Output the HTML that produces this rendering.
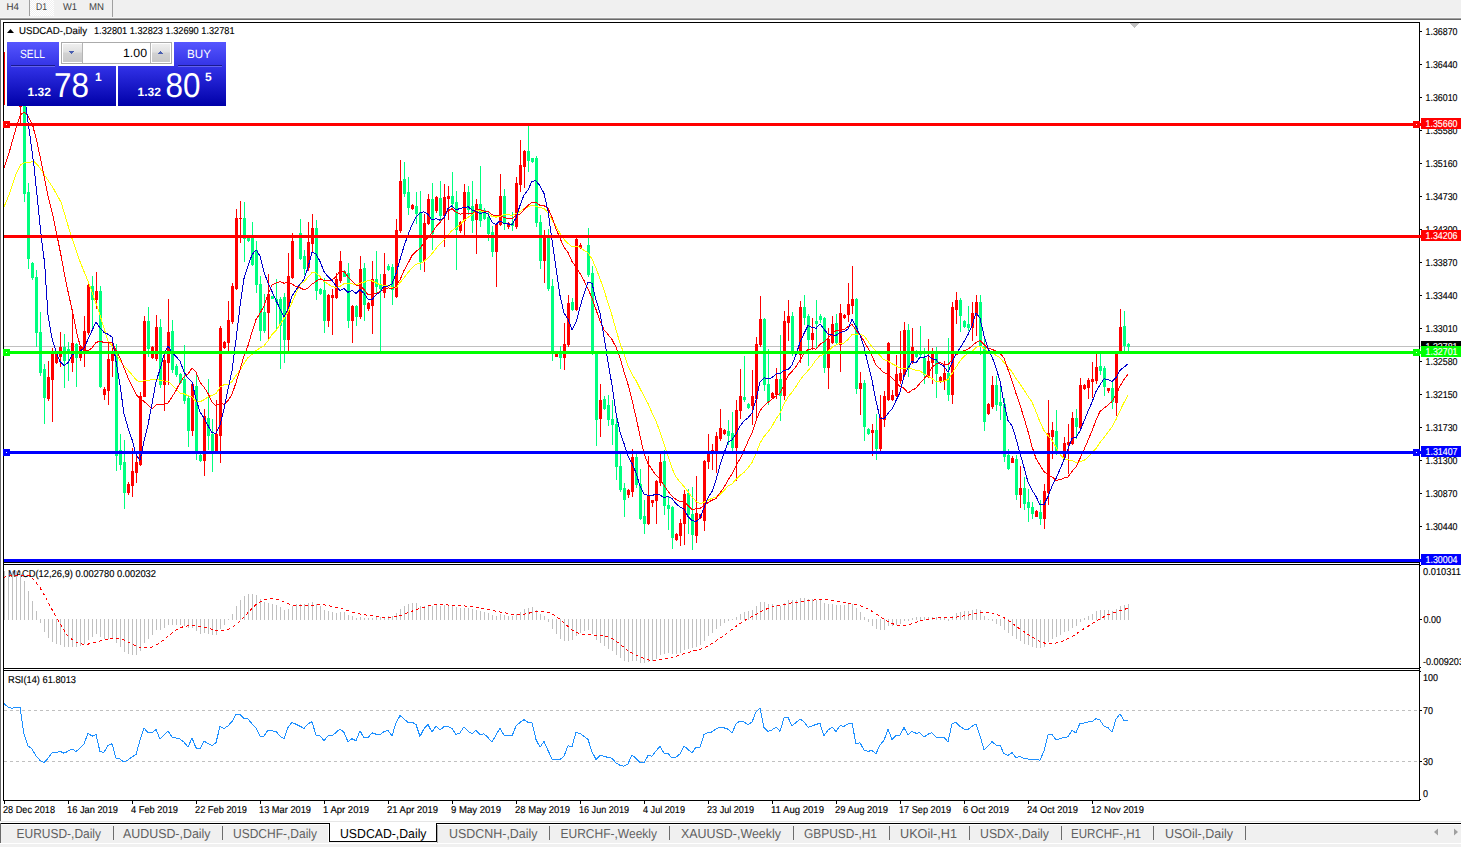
<!DOCTYPE html>
<html><head><meta charset="utf-8"><title>USDCAD-,Daily</title>
<style>html,body{margin:0;padding:0;background:#fff;overflow:hidden}svg{display:block}text{font-family:"Liberation Sans",sans-serif;white-space:pre}</style>
</head><body>
<svg width="1461" height="847" viewBox="0 0 1461 847" shape-rendering="crispEdges" text-rendering="geometricPrecision">
<rect x="0" y="0" width="1461" height="847" fill="#ffffff" />
<rect x="0" y="0" width="1461" height="18" fill="#f0f0f0" />
<defs><pattern id="chk" width="2" height="2" patternUnits="userSpaceOnUse"><rect width="2" height="2" fill="#f0f0f0"/><rect width="1" height="1" fill="#fff"/><rect x="1" y="1" width="1" height="1" fill="#fff"/></pattern></defs>
<rect x="30" y="0" width="24" height="16" fill="url(#chk)" />
<rect x="0" y="17" width="1461" height="1" fill="#f6f6f6" />
<rect x="29" y="0" width="1" height="16" fill="#a0a0a0" />
<rect x="112" y="0" width="1" height="17" fill="#a0a0a0" />
<text x="6.5" y="10" font-size="10" fill="#404040" text-anchor="start" font-weight="normal" textLength="12.5" lengthAdjust="spacingAndGlyphs" >H4</text>
<text x="36" y="10" font-size="10" fill="#404040" text-anchor="start" font-weight="normal" textLength="11" lengthAdjust="spacingAndGlyphs" >D1</text>
<text x="63" y="10" font-size="10" fill="#404040" text-anchor="start" font-weight="normal" textLength="14" lengthAdjust="spacingAndGlyphs" >W1</text>
<text x="89" y="10" font-size="10" fill="#404040" text-anchor="start" font-weight="normal" textLength="15" lengthAdjust="spacingAndGlyphs" >MN</text>
<rect x="0" y="18" width="1461" height="1" fill="#a0a0a0" />
<rect x="0" y="19" width="1461" height="1" fill="#696969" />
<rect x="0" y="19" width="1" height="802" fill="#696969" />
<rect x="0" y="821" width="1461" height="1" fill="#e6e6e6" />
<rect x="0" y="822" width="1461" height="1" fill="#ffffff" />
<rect x="0" y="823" width="1461" height="1" fill="#000" />
<rect x="0" y="824" width="1461" height="1" fill="#ffffff" />
<rect x="0" y="825" width="1461" height="18" fill="#f0f0f0" />
<rect x="0" y="843" width="1461" height="1" fill="#ffffff" />
<rect x="0" y="844" width="1461" height="3" fill="#f0f0f0" />
<rect x="0" y="823" width="1" height="20" fill="#696969" />
<text x="8" y="577" font-size="10" fill="#000" text-anchor="start" font-weight="normal" textLength="148" lengthAdjust="spacingAndGlyphs" stroke="#000" stroke-width="0.15" >MACD(12,26,9) 0.002780 0.002032</text>
<text x="8" y="683" font-size="10" fill="#000" text-anchor="start" font-weight="normal" textLength="68" lengthAdjust="spacingAndGlyphs" stroke="#000" stroke-width="0.15" >RSI(14) 61.8013</text>
<rect x="4" y="346" width="1417" height="1" fill="#c0c0c0" />
<rect x="20" y="106" width="1" height="17" fill="#ff0000"/>
<rect x="19" y="106" width="3" height="1" fill="#ff0000"/>
<rect x="24" y="106" width="1" height="96" fill="#00ff7f"/>
<rect x="23" y="106" width="3" height="88" fill="#00ff7f"/>
<rect x="28" y="183" width="1" height="86" fill="#00ff7f"/>
<rect x="27" y="192" width="3" height="67" fill="#00ff7f"/>
<rect x="32" y="262" width="1" height="18" fill="#00ff7f"/>
<rect x="31" y="263" width="3" height="15" fill="#00ff7f"/>
<rect x="36" y="270" width="1" height="77" fill="#00ff7f"/>
<rect x="35" y="277" width="3" height="56" fill="#00ff7f"/>
<rect x="40" y="312" width="1" height="64" fill="#00ff7f"/>
<rect x="39" y="332" width="3" height="41" fill="#00ff7f"/>
<rect x="44" y="364" width="1" height="60" fill="#00ff7f"/>
<rect x="43" y="369" width="3" height="29" fill="#00ff7f"/>
<rect x="48" y="361" width="1" height="40" fill="#ff0000"/>
<rect x="47" y="377" width="3" height="22" fill="#ff0000"/>
<rect x="52" y="348" width="1" height="74" fill="#ff0000"/>
<rect x="51" y="354" width="3" height="26" fill="#ff0000"/>
<rect x="56" y="351" width="1" height="13" fill="#ff0000"/>
<rect x="55" y="352" width="3" height="11" fill="#ff0000"/>
<rect x="60" y="332" width="1" height="35" fill="#ff0000"/>
<rect x="59" y="347" width="3" height="10" fill="#ff0000"/>
<rect x="64" y="334" width="1" height="54" fill="#00ff7f"/>
<rect x="63" y="347" width="3" height="14" fill="#00ff7f"/>
<rect x="68" y="342" width="1" height="39" fill="#00ff7f"/>
<rect x="67" y="349" width="3" height="4" fill="#00ff7f"/>
<rect x="72" y="313" width="1" height="59" fill="#ff0000"/>
<rect x="71" y="343" width="3" height="20" fill="#ff0000"/>
<rect x="76" y="343" width="1" height="44" fill="#00ff7f"/>
<rect x="75" y="344" width="3" height="14" fill="#00ff7f"/>
<rect x="80" y="345" width="1" height="16" fill="#ff0000"/>
<rect x="79" y="346" width="3" height="12" fill="#ff0000"/>
<rect x="84" y="316" width="1" height="51" fill="#ff0000"/>
<rect x="83" y="331" width="3" height="21" fill="#ff0000"/>
<rect x="88" y="284" width="1" height="51" fill="#ff0000"/>
<rect x="87" y="285" width="3" height="48" fill="#ff0000"/>
<rect x="92" y="276" width="1" height="52" fill="#00ff7f"/>
<rect x="91" y="286" width="3" height="14" fill="#00ff7f"/>
<rect x="96" y="272" width="1" height="37" fill="#ff0000"/>
<rect x="95" y="291" width="3" height="9" fill="#ff0000"/>
<rect x="100" y="286" width="1" height="102" fill="#00ff7f"/>
<rect x="99" y="291" width="3" height="96" fill="#00ff7f"/>
<rect x="104" y="387" width="1" height="13" fill="#ff0000"/>
<rect x="103" y="389" width="3" height="6" fill="#ff0000"/>
<rect x="108" y="342" width="1" height="63" fill="#ff0000"/>
<rect x="107" y="359" width="3" height="32" fill="#ff0000"/>
<rect x="112" y="341" width="1" height="36" fill="#ff0000"/>
<rect x="111" y="352" width="3" height="9" fill="#ff0000"/>
<rect x="116" y="344" width="1" height="127" fill="#00ff7f"/>
<rect x="115" y="352" width="3" height="104" fill="#00ff7f"/>
<rect x="120" y="434" width="1" height="36" fill="#00ff7f"/>
<rect x="119" y="450" width="3" height="15" fill="#00ff7f"/>
<rect x="124" y="440" width="1" height="69" fill="#00ff7f"/>
<rect x="123" y="462" width="3" height="31" fill="#00ff7f"/>
<rect x="128" y="482" width="1" height="13" fill="#ff0000"/>
<rect x="127" y="484" width="3" height="9" fill="#ff0000"/>
<rect x="132" y="448" width="1" height="49" fill="#ff0000"/>
<rect x="131" y="471" width="3" height="15" fill="#ff0000"/>
<rect x="136" y="454" width="1" height="29" fill="#ff0000"/>
<rect x="135" y="462" width="3" height="11" fill="#ff0000"/>
<rect x="140" y="392" width="1" height="74" fill="#ff0000"/>
<rect x="139" y="396" width="3" height="69" fill="#ff0000"/>
<rect x="144" y="316" width="1" height="81" fill="#ff0000"/>
<rect x="143" y="321" width="3" height="76" fill="#ff0000"/>
<rect x="148" y="307" width="1" height="50" fill="#00ff7f"/>
<rect x="147" y="321" width="3" height="28" fill="#00ff7f"/>
<rect x="152" y="346" width="1" height="13" fill="#ff0000"/>
<rect x="151" y="347" width="3" height="11" fill="#ff0000"/>
<rect x="156" y="315" width="1" height="46" fill="#ff0000"/>
<rect x="155" y="327" width="3" height="32" fill="#ff0000"/>
<rect x="160" y="319" width="1" height="69" fill="#00ff7f"/>
<rect x="159" y="327" width="3" height="58" fill="#00ff7f"/>
<rect x="164" y="352" width="1" height="59" fill="#ff0000"/>
<rect x="163" y="360" width="3" height="25" fill="#ff0000"/>
<rect x="168" y="299" width="1" height="86" fill="#ff0000"/>
<rect x="167" y="332" width="3" height="31" fill="#ff0000"/>
<rect x="172" y="320" width="1" height="53" fill="#00ff7f"/>
<rect x="171" y="331" width="3" height="39" fill="#00ff7f"/>
<rect x="176" y="364" width="1" height="13" fill="#00ff7f"/>
<rect x="175" y="366" width="3" height="9" fill="#00ff7f"/>
<rect x="180" y="373" width="1" height="11" fill="#00ff7f"/>
<rect x="179" y="374" width="3" height="9" fill="#00ff7f"/>
<rect x="184" y="345" width="1" height="59" fill="#00ff7f"/>
<rect x="183" y="379" width="3" height="22" fill="#00ff7f"/>
<rect x="188" y="396" width="1" height="51" fill="#00ff7f"/>
<rect x="187" y="398" width="3" height="33" fill="#00ff7f"/>
<rect x="192" y="383" width="1" height="53" fill="#ff0000"/>
<rect x="191" y="384" width="3" height="47" fill="#ff0000"/>
<rect x="196" y="374" width="1" height="86" fill="#00ff7f"/>
<rect x="195" y="386" width="3" height="67" fill="#00ff7f"/>
<rect x="200" y="454" width="1" height="8" fill="#00ff7f"/>
<rect x="199" y="455" width="3" height="6" fill="#00ff7f"/>
<rect x="204" y="409" width="1" height="67" fill="#ff0000"/>
<rect x="203" y="416" width="3" height="45" fill="#ff0000"/>
<rect x="208" y="379" width="1" height="71" fill="#00ff7f"/>
<rect x="207" y="418" width="3" height="18" fill="#00ff7f"/>
<rect x="212" y="419" width="1" height="53" fill="#00ff7f"/>
<rect x="211" y="434" width="3" height="17" fill="#00ff7f"/>
<rect x="216" y="400" width="1" height="52" fill="#ff0000"/>
<rect x="215" y="434" width="3" height="17" fill="#ff0000"/>
<rect x="220" y="326" width="1" height="137" fill="#ff0000"/>
<rect x="219" y="328" width="3" height="108" fill="#ff0000"/>
<rect x="224" y="341" width="1" height="8" fill="#ff0000"/>
<rect x="223" y="342" width="3" height="6" fill="#ff0000"/>
<rect x="228" y="301" width="1" height="50" fill="#ff0000"/>
<rect x="227" y="320" width="3" height="23" fill="#ff0000"/>
<rect x="232" y="283" width="1" height="41" fill="#ff0000"/>
<rect x="231" y="286" width="3" height="36" fill="#ff0000"/>
<rect x="236" y="209" width="1" height="81" fill="#ff0000"/>
<rect x="235" y="218" width="3" height="71" fill="#ff0000"/>
<rect x="240" y="201" width="1" height="42" fill="#ff0000"/>
<rect x="239" y="218" width="3" height="1" fill="#ff0000"/>
<rect x="244" y="202" width="1" height="60" fill="#00ff7f"/>
<rect x="243" y="218" width="3" height="21" fill="#00ff7f"/>
<rect x="248" y="235" width="1" height="7" fill="#00ff7f"/>
<rect x="247" y="236" width="3" height="5" fill="#00ff7f"/>
<rect x="252" y="222" width="1" height="44" fill="#00ff7f"/>
<rect x="251" y="237" width="3" height="28" fill="#00ff7f"/>
<rect x="256" y="241" width="1" height="52" fill="#00ff7f"/>
<rect x="255" y="250" width="3" height="35" fill="#00ff7f"/>
<rect x="260" y="276" width="1" height="65" fill="#00ff7f"/>
<rect x="259" y="284" width="3" height="47" fill="#00ff7f"/>
<rect x="264" y="294" width="1" height="39" fill="#00ff7f"/>
<rect x="263" y="312" width="3" height="19" fill="#00ff7f"/>
<rect x="268" y="274" width="1" height="66" fill="#ff0000"/>
<rect x="267" y="294" width="3" height="19" fill="#ff0000"/>
<rect x="272" y="296" width="1" height="3" fill="#00ff7f"/>
<rect x="271" y="296" width="3" height="3" fill="#00ff7f"/>
<rect x="276" y="279" width="1" height="51" fill="#00ff7f"/>
<rect x="275" y="299" width="3" height="3" fill="#00ff7f"/>
<rect x="280" y="297" width="1" height="72" fill="#00ff7f"/>
<rect x="279" y="299" width="3" height="27" fill="#00ff7f"/>
<rect x="284" y="293" width="1" height="70" fill="#00ff7f"/>
<rect x="283" y="297" width="3" height="43" fill="#00ff7f"/>
<rect x="288" y="253" width="1" height="98" fill="#ff0000"/>
<rect x="287" y="276" width="3" height="64" fill="#ff0000"/>
<rect x="292" y="233" width="1" height="46" fill="#ff0000"/>
<rect x="291" y="241" width="3" height="37" fill="#ff0000"/>
<rect x="300" y="219" width="1" height="41" fill="#00ff7f"/>
<rect x="299" y="233" width="3" height="26" fill="#00ff7f"/>
<rect x="304" y="250" width="1" height="25" fill="#00ff7f"/>
<rect x="303" y="256" width="3" height="13" fill="#00ff7f"/>
<rect x="308" y="222" width="1" height="49" fill="#ff0000"/>
<rect x="307" y="242" width="3" height="26" fill="#ff0000"/>
<rect x="312" y="214" width="1" height="38" fill="#ff0000"/>
<rect x="311" y="228" width="3" height="16" fill="#ff0000"/>
<rect x="316" y="220" width="1" height="80" fill="#00ff7f"/>
<rect x="315" y="228" width="3" height="63" fill="#00ff7f"/>
<rect x="320" y="288" width="1" height="7" fill="#00ff7f"/>
<rect x="319" y="289" width="3" height="5" fill="#00ff7f"/>
<rect x="324" y="278" width="1" height="55" fill="#00ff7f"/>
<rect x="323" y="290" width="3" height="31" fill="#00ff7f"/>
<rect x="328" y="294" width="1" height="33" fill="#ff0000"/>
<rect x="327" y="295" width="3" height="26" fill="#ff0000"/>
<rect x="332" y="289" width="1" height="46" fill="#ff0000"/>
<rect x="331" y="295" width="3" height="3" fill="#ff0000"/>
<rect x="336" y="273" width="1" height="26" fill="#ff0000"/>
<rect x="335" y="279" width="3" height="19" fill="#ff0000"/>
<rect x="340" y="251" width="1" height="32" fill="#ff0000"/>
<rect x="339" y="261" width="3" height="20" fill="#ff0000"/>
<rect x="344" y="270" width="1" height="7" fill="#00ff7f"/>
<rect x="343" y="271" width="3" height="6" fill="#00ff7f"/>
<rect x="348" y="263" width="1" height="65" fill="#00ff7f"/>
<rect x="347" y="273" width="3" height="48" fill="#00ff7f"/>
<rect x="352" y="305" width="1" height="38" fill="#ff0000"/>
<rect x="351" y="306" width="3" height="15" fill="#ff0000"/>
<rect x="356" y="305" width="1" height="21" fill="#00ff7f"/>
<rect x="355" y="306" width="3" height="11" fill="#00ff7f"/>
<rect x="360" y="256" width="1" height="63" fill="#ff0000"/>
<rect x="359" y="269" width="3" height="48" fill="#ff0000"/>
<rect x="364" y="263" width="1" height="58" fill="#00ff7f"/>
<rect x="363" y="268" width="3" height="37" fill="#00ff7f"/>
<rect x="368" y="302" width="1" height="9" fill="#ff0000"/>
<rect x="367" y="303" width="3" height="6" fill="#ff0000"/>
<rect x="372" y="261" width="1" height="73" fill="#ff0000"/>
<rect x="371" y="279" width="3" height="27" fill="#ff0000"/>
<rect x="376" y="251" width="1" height="42" fill="#00ff7f"/>
<rect x="375" y="279" width="3" height="8" fill="#00ff7f"/>
<rect x="380" y="274" width="1" height="77" fill="#00ff7f"/>
<rect x="379" y="285" width="3" height="4" fill="#00ff7f"/>
<rect x="384" y="253" width="1" height="45" fill="#ff0000"/>
<rect x="383" y="274" width="3" height="19" fill="#ff0000"/>
<rect x="388" y="264" width="1" height="7" fill="#00ff7f"/>
<rect x="387" y="266" width="3" height="4" fill="#00ff7f"/>
<rect x="392" y="264" width="1" height="41" fill="#00ff7f"/>
<rect x="391" y="267" width="3" height="23" fill="#00ff7f"/>
<rect x="396" y="219" width="1" height="79" fill="#ff0000"/>
<rect x="395" y="230" width="3" height="67" fill="#ff0000"/>
<rect x="400" y="160" width="1" height="73" fill="#ff0000"/>
<rect x="399" y="181" width="3" height="50" fill="#ff0000"/>
<rect x="404" y="162" width="1" height="35" fill="#00ff7f"/>
<rect x="403" y="179" width="3" height="15" fill="#00ff7f"/>
<rect x="408" y="177" width="1" height="38" fill="#00ff7f"/>
<rect x="407" y="192" width="3" height="16" fill="#00ff7f"/>
<rect x="412" y="204" width="1" height="6" fill="#ff0000"/>
<rect x="411" y="205" width="3" height="4" fill="#ff0000"/>
<rect x="416" y="192" width="1" height="32" fill="#00ff7f"/>
<rect x="415" y="206" width="3" height="8" fill="#00ff7f"/>
<rect x="420" y="191" width="1" height="79" fill="#00ff7f"/>
<rect x="419" y="212" width="3" height="50" fill="#00ff7f"/>
<rect x="424" y="214" width="1" height="58" fill="#ff0000"/>
<rect x="423" y="223" width="3" height="38" fill="#ff0000"/>
<rect x="428" y="194" width="1" height="31" fill="#ff0000"/>
<rect x="427" y="199" width="3" height="25" fill="#ff0000"/>
<rect x="432" y="183" width="1" height="67" fill="#00ff7f"/>
<rect x="431" y="199" width="3" height="35" fill="#00ff7f"/>
<rect x="436" y="196" width="1" height="17" fill="#ff0000"/>
<rect x="435" y="197" width="3" height="14" fill="#ff0000"/>
<rect x="440" y="181" width="1" height="40" fill="#00ff7f"/>
<rect x="439" y="198" width="3" height="18" fill="#00ff7f"/>
<rect x="444" y="184" width="1" height="63" fill="#ff0000"/>
<rect x="443" y="197" width="3" height="19" fill="#ff0000"/>
<rect x="448" y="186" width="1" height="34" fill="#ff0000"/>
<rect x="447" y="196" width="3" height="3" fill="#ff0000"/>
<rect x="452" y="172" width="1" height="37" fill="#00ff7f"/>
<rect x="451" y="196" width="3" height="8" fill="#00ff7f"/>
<rect x="456" y="191" width="1" height="79" fill="#00ff7f"/>
<rect x="455" y="202" width="3" height="28" fill="#00ff7f"/>
<rect x="460" y="221" width="1" height="12" fill="#ff0000"/>
<rect x="459" y="222" width="3" height="9" fill="#ff0000"/>
<rect x="464" y="184" width="1" height="51" fill="#ff0000"/>
<rect x="463" y="192" width="3" height="29" fill="#ff0000"/>
<rect x="468" y="186" width="1" height="29" fill="#00ff7f"/>
<rect x="467" y="192" width="3" height="18" fill="#00ff7f"/>
<rect x="472" y="181" width="1" height="52" fill="#00ff7f"/>
<rect x="471" y="206" width="3" height="15" fill="#00ff7f"/>
<rect x="476" y="199" width="1" height="55" fill="#ff0000"/>
<rect x="475" y="204" width="3" height="16" fill="#ff0000"/>
<rect x="480" y="166" width="1" height="61" fill="#00ff7f"/>
<rect x="479" y="204" width="3" height="17" fill="#00ff7f"/>
<rect x="484" y="208" width="1" height="12" fill="#00ff7f"/>
<rect x="483" y="210" width="3" height="9" fill="#00ff7f"/>
<rect x="488" y="212" width="1" height="29" fill="#00ff7f"/>
<rect x="487" y="217" width="3" height="17" fill="#00ff7f"/>
<rect x="492" y="226" width="1" height="31" fill="#00ff7f"/>
<rect x="491" y="232" width="3" height="20" fill="#00ff7f"/>
<rect x="496" y="223" width="1" height="64" fill="#ff0000"/>
<rect x="495" y="224" width="3" height="28" fill="#ff0000"/>
<rect x="500" y="174" width="1" height="52" fill="#ff0000"/>
<rect x="499" y="196" width="3" height="29" fill="#ff0000"/>
<rect x="504" y="189" width="1" height="41" fill="#00ff7f"/>
<rect x="503" y="196" width="3" height="28" fill="#00ff7f"/>
<rect x="508" y="222" width="1" height="7" fill="#ff0000"/>
<rect x="507" y="223" width="3" height="4" fill="#ff0000"/>
<rect x="512" y="212" width="1" height="19" fill="#00ff7f"/>
<rect x="511" y="223" width="3" height="3" fill="#00ff7f"/>
<rect x="516" y="177" width="1" height="52" fill="#ff0000"/>
<rect x="515" y="183" width="3" height="44" fill="#ff0000"/>
<rect x="520" y="140" width="1" height="52" fill="#ff0000"/>
<rect x="519" y="165" width="3" height="20" fill="#ff0000"/>
<rect x="524" y="150" width="1" height="38" fill="#ff0000"/>
<rect x="523" y="151" width="3" height="16" fill="#ff0000"/>
<rect x="528" y="126" width="1" height="46" fill="#00ff7f"/>
<rect x="527" y="151" width="3" height="10" fill="#00ff7f"/>
<rect x="532" y="158" width="1" height="5" fill="#00ff7f"/>
<rect x="531" y="158" width="3" height="4" fill="#00ff7f"/>
<rect x="536" y="156" width="1" height="71" fill="#00ff7f"/>
<rect x="535" y="158" width="3" height="65" fill="#00ff7f"/>
<rect x="540" y="215" width="1" height="54" fill="#00ff7f"/>
<rect x="539" y="222" width="3" height="39" fill="#00ff7f"/>
<rect x="544" y="230" width="1" height="53" fill="#ff0000"/>
<rect x="543" y="236" width="3" height="25" fill="#ff0000"/>
<rect x="548" y="229" width="1" height="62" fill="#00ff7f"/>
<rect x="547" y="238" width="3" height="51" fill="#00ff7f"/>
<rect x="552" y="279" width="1" height="82" fill="#00ff7f"/>
<rect x="551" y="286" width="3" height="68" fill="#00ff7f"/>
<rect x="556" y="352" width="1" height="5" fill="#ff0000"/>
<rect x="555" y="353" width="3" height="4" fill="#ff0000"/>
<rect x="560" y="346" width="1" height="23" fill="#00ff7f"/>
<rect x="559" y="352" width="3" height="6" fill="#00ff7f"/>
<rect x="564" y="323" width="1" height="47" fill="#ff0000"/>
<rect x="563" y="344" width="3" height="14" fill="#ff0000"/>
<rect x="568" y="295" width="1" height="52" fill="#ff0000"/>
<rect x="567" y="303" width="3" height="42" fill="#ff0000"/>
<rect x="572" y="298" width="1" height="13" fill="#00ff7f"/>
<rect x="571" y="302" width="3" height="8" fill="#00ff7f"/>
<rect x="576" y="238" width="1" height="73" fill="#ff0000"/>
<rect x="575" y="239" width="3" height="71" fill="#ff0000"/>
<rect x="580" y="243" width="1" height="6" fill="#ff0000"/>
<rect x="579" y="245" width="3" height="3" fill="#ff0000"/>
<rect x="588" y="228" width="1" height="49" fill="#00ff7f"/>
<rect x="587" y="245" width="3" height="30" fill="#00ff7f"/>
<rect x="592" y="266" width="1" height="89" fill="#00ff7f"/>
<rect x="591" y="273" width="3" height="81" fill="#00ff7f"/>
<rect x="596" y="352" width="1" height="94" fill="#00ff7f"/>
<rect x="595" y="353" width="3" height="67" fill="#00ff7f"/>
<rect x="600" y="384" width="1" height="53" fill="#ff0000"/>
<rect x="599" y="400" width="3" height="19" fill="#ff0000"/>
<rect x="604" y="396" width="1" height="14" fill="#00ff7f"/>
<rect x="603" y="399" width="3" height="10" fill="#00ff7f"/>
<rect x="608" y="395" width="1" height="31" fill="#00ff7f"/>
<rect x="607" y="405" width="3" height="15" fill="#00ff7f"/>
<rect x="612" y="400" width="1" height="45" fill="#00ff7f"/>
<rect x="611" y="419" width="3" height="6" fill="#00ff7f"/>
<rect x="616" y="416" width="1" height="64" fill="#00ff7f"/>
<rect x="615" y="424" width="3" height="43" fill="#00ff7f"/>
<rect x="620" y="454" width="1" height="38" fill="#00ff7f"/>
<rect x="619" y="466" width="3" height="24" fill="#00ff7f"/>
<rect x="624" y="483" width="1" height="34" fill="#00ff7f"/>
<rect x="623" y="488" width="3" height="12" fill="#00ff7f"/>
<rect x="628" y="489" width="1" height="9" fill="#ff0000"/>
<rect x="627" y="490" width="3" height="5" fill="#ff0000"/>
<rect x="632" y="449" width="1" height="48" fill="#ff0000"/>
<rect x="631" y="457" width="3" height="35" fill="#ff0000"/>
<rect x="636" y="454" width="1" height="34" fill="#00ff7f"/>
<rect x="635" y="457" width="3" height="28" fill="#00ff7f"/>
<rect x="640" y="469" width="1" height="51" fill="#00ff7f"/>
<rect x="639" y="484" width="3" height="35" fill="#00ff7f"/>
<rect x="644" y="500" width="1" height="34" fill="#00ff7f"/>
<rect x="643" y="516" width="3" height="8" fill="#00ff7f"/>
<rect x="648" y="456" width="1" height="69" fill="#ff0000"/>
<rect x="647" y="496" width="3" height="28" fill="#ff0000"/>
<rect x="652" y="500" width="1" height="7" fill="#ff0000"/>
<rect x="651" y="500" width="3" height="3" fill="#ff0000"/>
<rect x="656" y="480" width="1" height="44" fill="#ff0000"/>
<rect x="655" y="481" width="3" height="20" fill="#ff0000"/>
<rect x="660" y="452" width="1" height="34" fill="#ff0000"/>
<rect x="659" y="462" width="3" height="21" fill="#ff0000"/>
<rect x="664" y="450" width="1" height="65" fill="#00ff7f"/>
<rect x="663" y="461" width="3" height="45" fill="#00ff7f"/>
<rect x="668" y="497" width="1" height="33" fill="#00ff7f"/>
<rect x="667" y="505" width="3" height="4" fill="#00ff7f"/>
<rect x="672" y="506" width="1" height="43" fill="#00ff7f"/>
<rect x="671" y="507" width="3" height="31" fill="#00ff7f"/>
<rect x="676" y="533" width="1" height="8" fill="#ff0000"/>
<rect x="675" y="534" width="3" height="6" fill="#ff0000"/>
<rect x="680" y="519" width="1" height="27" fill="#ff0000"/>
<rect x="679" y="523" width="3" height="13" fill="#ff0000"/>
<rect x="684" y="490" width="1" height="55" fill="#ff0000"/>
<rect x="683" y="494" width="3" height="30" fill="#ff0000"/>
<rect x="688" y="489" width="1" height="45" fill="#00ff7f"/>
<rect x="687" y="493" width="3" height="22" fill="#00ff7f"/>
<rect x="692" y="487" width="1" height="63" fill="#00ff7f"/>
<rect x="691" y="514" width="3" height="21" fill="#00ff7f"/>
<rect x="696" y="476" width="1" height="67" fill="#ff0000"/>
<rect x="695" y="513" width="3" height="23" fill="#ff0000"/>
<rect x="700" y="514" width="1" height="5" fill="#ff0000"/>
<rect x="699" y="514" width="3" height="4" fill="#ff0000"/>
<rect x="704" y="460" width="1" height="71" fill="#ff0000"/>
<rect x="703" y="461" width="3" height="60" fill="#ff0000"/>
<rect x="708" y="434" width="1" height="35" fill="#ff0000"/>
<rect x="707" y="453" width="3" height="9" fill="#ff0000"/>
<rect x="712" y="444" width="1" height="26" fill="#ff0000"/>
<rect x="711" y="450" width="3" height="4" fill="#ff0000"/>
<rect x="716" y="432" width="1" height="41" fill="#ff0000"/>
<rect x="715" y="436" width="3" height="17" fill="#ff0000"/>
<rect x="720" y="409" width="1" height="32" fill="#ff0000"/>
<rect x="719" y="428" width="3" height="11" fill="#ff0000"/>
<rect x="724" y="429" width="1" height="6" fill="#ff0000"/>
<rect x="723" y="430" width="3" height="4" fill="#ff0000"/>
<rect x="728" y="420" width="1" height="25" fill="#00ff7f"/>
<rect x="727" y="431" width="3" height="5" fill="#00ff7f"/>
<rect x="732" y="412" width="1" height="40" fill="#00ff7f"/>
<rect x="731" y="433" width="3" height="15" fill="#00ff7f"/>
<rect x="736" y="400" width="1" height="81" fill="#ff0000"/>
<rect x="735" y="410" width="3" height="38" fill="#ff0000"/>
<rect x="740" y="369" width="1" height="50" fill="#ff0000"/>
<rect x="739" y="396" width="3" height="15" fill="#ff0000"/>
<rect x="744" y="356" width="1" height="46" fill="#00ff7f"/>
<rect x="743" y="397" width="3" height="3" fill="#00ff7f"/>
<rect x="748" y="403" width="1" height="6" fill="#00ff7f"/>
<rect x="747" y="404" width="3" height="4" fill="#00ff7f"/>
<rect x="752" y="370" width="1" height="55" fill="#ff0000"/>
<rect x="751" y="396" width="3" height="10" fill="#ff0000"/>
<rect x="756" y="337" width="1" height="83" fill="#ff0000"/>
<rect x="755" y="344" width="3" height="55" fill="#ff0000"/>
<rect x="760" y="296" width="1" height="51" fill="#ff0000"/>
<rect x="759" y="319" width="3" height="26" fill="#ff0000"/>
<rect x="764" y="318" width="1" height="73" fill="#00ff7f"/>
<rect x="763" y="319" width="3" height="66" fill="#00ff7f"/>
<rect x="768" y="349" width="1" height="56" fill="#00ff7f"/>
<rect x="767" y="384" width="3" height="18" fill="#00ff7f"/>
<rect x="772" y="392" width="1" height="7" fill="#ff0000"/>
<rect x="771" y="393" width="3" height="5" fill="#ff0000"/>
<rect x="776" y="368" width="1" height="31" fill="#ff0000"/>
<rect x="775" y="379" width="3" height="16" fill="#ff0000"/>
<rect x="780" y="335" width="1" height="86" fill="#00ff7f"/>
<rect x="779" y="379" width="3" height="17" fill="#00ff7f"/>
<rect x="784" y="311" width="1" height="89" fill="#ff0000"/>
<rect x="783" y="321" width="3" height="75" fill="#ff0000"/>
<rect x="788" y="300" width="1" height="41" fill="#ff0000"/>
<rect x="787" y="316" width="3" height="7" fill="#ff0000"/>
<rect x="792" y="312" width="1" height="44" fill="#00ff7f"/>
<rect x="791" y="316" width="3" height="35" fill="#00ff7f"/>
<rect x="800" y="301" width="1" height="62" fill="#ff0000"/>
<rect x="799" y="307" width="3" height="48" fill="#ff0000"/>
<rect x="804" y="295" width="1" height="30" fill="#00ff7f"/>
<rect x="803" y="307" width="3" height="11" fill="#00ff7f"/>
<rect x="808" y="314" width="1" height="52" fill="#00ff7f"/>
<rect x="807" y="316" width="3" height="24" fill="#00ff7f"/>
<rect x="812" y="318" width="1" height="32" fill="#ff0000"/>
<rect x="811" y="333" width="3" height="7" fill="#ff0000"/>
<rect x="816" y="300" width="1" height="48" fill="#00ff7f"/>
<rect x="815" y="321" width="3" height="3" fill="#00ff7f"/>
<rect x="820" y="314" width="1" height="9" fill="#00ff7f"/>
<rect x="819" y="316" width="3" height="4" fill="#00ff7f"/>
<rect x="824" y="317" width="1" height="56" fill="#00ff7f"/>
<rect x="823" y="318" width="3" height="50" fill="#00ff7f"/>
<rect x="828" y="328" width="1" height="61" fill="#ff0000"/>
<rect x="827" y="339" width="3" height="29" fill="#ff0000"/>
<rect x="832" y="316" width="1" height="28" fill="#ff0000"/>
<rect x="831" y="324" width="3" height="19" fill="#ff0000"/>
<rect x="836" y="314" width="1" height="31" fill="#00ff7f"/>
<rect x="835" y="323" width="3" height="20" fill="#00ff7f"/>
<rect x="840" y="304" width="1" height="68" fill="#ff0000"/>
<rect x="839" y="313" width="3" height="32" fill="#ff0000"/>
<rect x="844" y="314" width="1" height="5" fill="#ff0000"/>
<rect x="843" y="315" width="3" height="3" fill="#ff0000"/>
<rect x="848" y="283" width="1" height="39" fill="#ff0000"/>
<rect x="847" y="304" width="3" height="11" fill="#ff0000"/>
<rect x="852" y="266" width="1" height="48" fill="#ff0000"/>
<rect x="851" y="299" width="3" height="7" fill="#ff0000"/>
<rect x="856" y="298" width="1" height="96" fill="#00ff7f"/>
<rect x="855" y="299" width="3" height="90" fill="#00ff7f"/>
<rect x="860" y="372" width="1" height="43" fill="#ff0000"/>
<rect x="859" y="383" width="3" height="6" fill="#ff0000"/>
<rect x="864" y="380" width="1" height="61" fill="#00ff7f"/>
<rect x="863" y="383" width="3" height="44" fill="#00ff7f"/>
<rect x="868" y="428" width="1" height="7" fill="#00ff7f"/>
<rect x="867" y="429" width="3" height="5" fill="#00ff7f"/>
<rect x="872" y="424" width="1" height="32" fill="#ff0000"/>
<rect x="871" y="430" width="3" height="3" fill="#ff0000"/>
<rect x="876" y="414" width="1" height="46" fill="#00ff7f"/>
<rect x="875" y="430" width="3" height="19" fill="#00ff7f"/>
<rect x="880" y="395" width="1" height="57" fill="#ff0000"/>
<rect x="879" y="417" width="3" height="32" fill="#ff0000"/>
<rect x="884" y="391" width="1" height="36" fill="#ff0000"/>
<rect x="883" y="396" width="3" height="24" fill="#ff0000"/>
<rect x="888" y="342" width="1" height="59" fill="#ff0000"/>
<rect x="887" y="343" width="3" height="57" fill="#ff0000"/>
<rect x="892" y="390" width="1" height="11" fill="#ff0000"/>
<rect x="891" y="395" width="3" height="5" fill="#ff0000"/>
<rect x="896" y="355" width="1" height="42" fill="#ff0000"/>
<rect x="895" y="374" width="3" height="22" fill="#ff0000"/>
<rect x="900" y="331" width="1" height="53" fill="#ff0000"/>
<rect x="899" y="373" width="3" height="8" fill="#ff0000"/>
<rect x="904" y="322" width="1" height="55" fill="#ff0000"/>
<rect x="903" y="330" width="3" height="45" fill="#ff0000"/>
<rect x="908" y="324" width="1" height="53" fill="#00ff7f"/>
<rect x="907" y="330" width="3" height="38" fill="#00ff7f"/>
<rect x="912" y="328" width="1" height="36" fill="#ff0000"/>
<rect x="911" y="347" width="3" height="16" fill="#ff0000"/>
<rect x="916" y="350" width="1" height="8" fill="#00ff7f"/>
<rect x="915" y="352" width="3" height="5" fill="#00ff7f"/>
<rect x="920" y="326" width="1" height="32" fill="#00ff7f"/>
<rect x="919" y="352" width="3" height="3" fill="#00ff7f"/>
<rect x="924" y="348" width="1" height="36" fill="#00ff7f"/>
<rect x="923" y="358" width="3" height="17" fill="#00ff7f"/>
<rect x="928" y="339" width="1" height="39" fill="#ff0000"/>
<rect x="927" y="361" width="3" height="16" fill="#ff0000"/>
<rect x="932" y="348" width="1" height="36" fill="#ff0000"/>
<rect x="931" y="353" width="3" height="10" fill="#ff0000"/>
<rect x="936" y="347" width="1" height="51" fill="#00ff7f"/>
<rect x="935" y="351" width="3" height="23" fill="#00ff7f"/>
<rect x="940" y="376" width="1" height="7" fill="#ff0000"/>
<rect x="939" y="377" width="3" height="4" fill="#ff0000"/>
<rect x="944" y="361" width="1" height="29" fill="#ff0000"/>
<rect x="943" y="373" width="3" height="8" fill="#ff0000"/>
<rect x="948" y="338" width="1" height="63" fill="#00ff7f"/>
<rect x="947" y="373" width="3" height="22" fill="#00ff7f"/>
<rect x="952" y="302" width="1" height="102" fill="#ff0000"/>
<rect x="951" y="307" width="3" height="88" fill="#ff0000"/>
<rect x="956" y="292" width="1" height="32" fill="#ff0000"/>
<rect x="955" y="300" width="3" height="10" fill="#ff0000"/>
<rect x="960" y="298" width="1" height="34" fill="#00ff7f"/>
<rect x="959" y="300" width="3" height="16" fill="#00ff7f"/>
<rect x="964" y="320" width="1" height="8" fill="#00ff7f"/>
<rect x="963" y="321" width="3" height="6" fill="#00ff7f"/>
<rect x="968" y="306" width="1" height="25" fill="#00ff7f"/>
<rect x="967" y="324" width="3" height="4" fill="#00ff7f"/>
<rect x="972" y="302" width="1" height="39" fill="#ff0000"/>
<rect x="971" y="313" width="3" height="15" fill="#ff0000"/>
<rect x="976" y="295" width="1" height="41" fill="#ff0000"/>
<rect x="975" y="302" width="3" height="14" fill="#ff0000"/>
<rect x="980" y="295" width="1" height="60" fill="#00ff7f"/>
<rect x="979" y="302" width="3" height="45" fill="#00ff7f"/>
<rect x="984" y="338" width="1" height="93" fill="#00ff7f"/>
<rect x="983" y="346" width="3" height="76" fill="#00ff7f"/>
<rect x="988" y="403" width="1" height="12" fill="#ff0000"/>
<rect x="987" y="404" width="3" height="10" fill="#ff0000"/>
<rect x="992" y="376" width="1" height="33" fill="#ff0000"/>
<rect x="991" y="385" width="3" height="22" fill="#ff0000"/>
<rect x="996" y="376" width="1" height="35" fill="#00ff7f"/>
<rect x="995" y="385" width="3" height="20" fill="#00ff7f"/>
<rect x="1000" y="383" width="1" height="37" fill="#00ff7f"/>
<rect x="999" y="402" width="3" height="4" fill="#00ff7f"/>
<rect x="1004" y="398" width="1" height="64" fill="#00ff7f"/>
<rect x="1003" y="404" width="3" height="53" fill="#00ff7f"/>
<rect x="1008" y="449" width="1" height="21" fill="#00ff7f"/>
<rect x="1007" y="455" width="3" height="14" fill="#00ff7f"/>
<rect x="1012" y="456" width="1" height="7" fill="#ff0000"/>
<rect x="1011" y="458" width="3" height="5" fill="#ff0000"/>
<rect x="1016" y="455" width="1" height="45" fill="#00ff7f"/>
<rect x="1015" y="459" width="3" height="36" fill="#00ff7f"/>
<rect x="1020" y="466" width="1" height="42" fill="#ff0000"/>
<rect x="1019" y="488" width="3" height="7" fill="#ff0000"/>
<rect x="1024" y="477" width="1" height="33" fill="#00ff7f"/>
<rect x="1023" y="488" width="3" height="16" fill="#00ff7f"/>
<rect x="1028" y="489" width="1" height="33" fill="#00ff7f"/>
<rect x="1027" y="502" width="3" height="6" fill="#00ff7f"/>
<rect x="1032" y="502" width="1" height="17" fill="#00ff7f"/>
<rect x="1031" y="507" width="3" height="7" fill="#00ff7f"/>
<rect x="1036" y="510" width="1" height="7" fill="#ff0000"/>
<rect x="1035" y="511" width="3" height="6" fill="#ff0000"/>
<rect x="1040" y="500" width="1" height="25" fill="#00ff7f"/>
<rect x="1039" y="512" width="3" height="7" fill="#00ff7f"/>
<rect x="1044" y="484" width="1" height="45" fill="#ff0000"/>
<rect x="1043" y="491" width="3" height="28" fill="#ff0000"/>
<rect x="1048" y="400" width="1" height="105" fill="#ff0000"/>
<rect x="1047" y="433" width="3" height="60" fill="#ff0000"/>
<rect x="1052" y="422" width="1" height="37" fill="#ff0000"/>
<rect x="1051" y="430" width="3" height="7" fill="#ff0000"/>
<rect x="1056" y="410" width="1" height="45" fill="#00ff7f"/>
<rect x="1055" y="431" width="3" height="23" fill="#00ff7f"/>
<rect x="1064" y="437" width="1" height="22" fill="#ff0000"/>
<rect x="1063" y="443" width="3" height="15" fill="#ff0000"/>
<rect x="1068" y="424" width="1" height="50" fill="#ff0000"/>
<rect x="1067" y="442" width="3" height="3" fill="#ff0000"/>
<rect x="1072" y="412" width="1" height="33" fill="#ff0000"/>
<rect x="1071" y="418" width="3" height="26" fill="#ff0000"/>
<rect x="1076" y="409" width="1" height="30" fill="#00ff7f"/>
<rect x="1075" y="418" width="3" height="9" fill="#00ff7f"/>
<rect x="1080" y="378" width="1" height="51" fill="#ff0000"/>
<rect x="1079" y="385" width="3" height="43" fill="#ff0000"/>
<rect x="1084" y="384" width="1" height="6" fill="#ff0000"/>
<rect x="1083" y="385" width="3" height="4" fill="#ff0000"/>
<rect x="1088" y="378" width="1" height="21" fill="#ff0000"/>
<rect x="1087" y="380" width="3" height="8" fill="#ff0000"/>
<rect x="1092" y="362" width="1" height="36" fill="#ff0000"/>
<rect x="1091" y="379" width="3" height="3" fill="#ff0000"/>
<rect x="1096" y="354" width="1" height="30" fill="#ff0000"/>
<rect x="1095" y="367" width="3" height="14" fill="#ff0000"/>
<rect x="1100" y="354" width="1" height="21" fill="#00ff7f"/>
<rect x="1099" y="366" width="3" height="5" fill="#00ff7f"/>
<rect x="1104" y="366" width="1" height="30" fill="#00ff7f"/>
<rect x="1103" y="368" width="3" height="19" fill="#00ff7f"/>
<rect x="1108" y="388" width="1" height="5" fill="#ff0000"/>
<rect x="1107" y="388" width="3" height="3" fill="#ff0000"/>
<rect x="1112" y="380" width="1" height="29" fill="#00ff7f"/>
<rect x="1111" y="388" width="3" height="14" fill="#00ff7f"/>
<rect x="1116" y="352" width="1" height="64" fill="#ff0000"/>
<rect x="1115" y="353" width="3" height="50" fill="#ff0000"/>
<rect x="1120" y="309" width="1" height="45" fill="#ff0000"/>
<rect x="1119" y="327" width="3" height="26" fill="#ff0000"/>
<rect x="1124" y="311" width="1" height="41" fill="#00ff7f"/>
<rect x="1123" y="326" width="3" height="20" fill="#00ff7f"/>
<rect x="1128" y="343" width="1" height="8" fill="#00ff7f"/>
<rect x="1127" y="344" width="3" height="3" fill="#00ff7f"/>
<rect x="4" y="571" width="1" height="49" fill="#c0c0c0"/>
<rect x="8" y="571" width="1" height="49" fill="#c0c0c0"/>
<rect x="12" y="571" width="1" height="49" fill="#c0c0c0"/>
<rect x="16" y="571" width="1" height="49" fill="#c0c0c0"/>
<rect x="20" y="571" width="1" height="49" fill="#c0c0c0"/>
<rect x="24" y="581" width="1" height="39" fill="#c0c0c0"/>
<rect x="28" y="591" width="1" height="29" fill="#c0c0c0"/>
<rect x="32" y="601" width="1" height="19" fill="#c0c0c0"/>
<rect x="36" y="611" width="1" height="9" fill="#c0c0c0"/>
<rect x="40" y="619" width="1" height="4" fill="#c0c0c0"/>
<rect x="44" y="619" width="1" height="13" fill="#c0c0c0"/>
<rect x="48" y="619" width="1" height="19" fill="#c0c0c0"/>
<rect x="52" y="619" width="1" height="23" fill="#c0c0c0"/>
<rect x="56" y="619" width="1" height="25" fill="#c0c0c0"/>
<rect x="60" y="619" width="1" height="26" fill="#c0c0c0"/>
<rect x="64" y="619" width="1" height="28" fill="#c0c0c0"/>
<rect x="68" y="619" width="1" height="28" fill="#c0c0c0"/>
<rect x="72" y="619" width="1" height="28" fill="#c0c0c0"/>
<rect x="76" y="619" width="1" height="28" fill="#c0c0c0"/>
<rect x="80" y="619" width="1" height="27" fill="#c0c0c0"/>
<rect x="84" y="619" width="1" height="25" fill="#c0c0c0"/>
<rect x="88" y="619" width="1" height="21" fill="#c0c0c0"/>
<rect x="92" y="619" width="1" height="18" fill="#c0c0c0"/>
<rect x="96" y="619" width="1" height="15" fill="#c0c0c0"/>
<rect x="100" y="619" width="1" height="18" fill="#c0c0c0"/>
<rect x="104" y="619" width="1" height="20" fill="#c0c0c0"/>
<rect x="108" y="619" width="1" height="20" fill="#c0c0c0"/>
<rect x="112" y="619" width="1" height="20" fill="#c0c0c0"/>
<rect x="116" y="619" width="1" height="24" fill="#c0c0c0"/>
<rect x="120" y="619" width="1" height="28" fill="#c0c0c0"/>
<rect x="124" y="619" width="1" height="33" fill="#c0c0c0"/>
<rect x="128" y="619" width="1" height="35" fill="#c0c0c0"/>
<rect x="132" y="619" width="1" height="36" fill="#c0c0c0"/>
<rect x="136" y="619" width="1" height="36" fill="#c0c0c0"/>
<rect x="140" y="619" width="1" height="32" fill="#c0c0c0"/>
<rect x="144" y="619" width="1" height="24" fill="#c0c0c0"/>
<rect x="148" y="619" width="1" height="20" fill="#c0c0c0"/>
<rect x="152" y="619" width="1" height="16" fill="#c0c0c0"/>
<rect x="156" y="619" width="1" height="11" fill="#c0c0c0"/>
<rect x="160" y="619" width="1" height="11" fill="#c0c0c0"/>
<rect x="164" y="619" width="1" height="9" fill="#c0c0c0"/>
<rect x="168" y="619" width="1" height="6" fill="#c0c0c0"/>
<rect x="172" y="619" width="1" height="6" fill="#c0c0c0"/>
<rect x="176" y="619" width="1" height="6" fill="#c0c0c0"/>
<rect x="180" y="619" width="1" height="6" fill="#c0c0c0"/>
<rect x="184" y="619" width="1" height="7" fill="#c0c0c0"/>
<rect x="188" y="619" width="1" height="9" fill="#c0c0c0"/>
<rect x="192" y="619" width="1" height="9" fill="#c0c0c0"/>
<rect x="196" y="619" width="1" height="12" fill="#c0c0c0"/>
<rect x="200" y="619" width="1" height="15" fill="#c0c0c0"/>
<rect x="204" y="619" width="1" height="14" fill="#c0c0c0"/>
<rect x="208" y="619" width="1" height="15" fill="#c0c0c0"/>
<rect x="212" y="619" width="1" height="16" fill="#c0c0c0"/>
<rect x="216" y="619" width="1" height="16" fill="#c0c0c0"/>
<rect x="220" y="619" width="1" height="10" fill="#c0c0c0"/>
<rect x="224" y="619" width="1" height="6" fill="#c0c0c0"/>
<rect x="228" y="619" width="1" height="1" fill="#c0c0c0"/>
<rect x="232" y="614" width="1" height="6" fill="#c0c0c0"/>
<rect x="236" y="606" width="1" height="14" fill="#c0c0c0"/>
<rect x="240" y="600" width="1" height="20" fill="#c0c0c0"/>
<rect x="244" y="596" width="1" height="24" fill="#c0c0c0"/>
<rect x="248" y="594" width="1" height="26" fill="#c0c0c0"/>
<rect x="252" y="594" width="1" height="26" fill="#c0c0c0"/>
<rect x="256" y="595" width="1" height="25" fill="#c0c0c0"/>
<rect x="260" y="599" width="1" height="21" fill="#c0c0c0"/>
<rect x="264" y="602" width="1" height="18" fill="#c0c0c0"/>
<rect x="268" y="603" width="1" height="17" fill="#c0c0c0"/>
<rect x="272" y="604" width="1" height="16" fill="#c0c0c0"/>
<rect x="276" y="605" width="1" height="15" fill="#c0c0c0"/>
<rect x="280" y="607" width="1" height="13" fill="#c0c0c0"/>
<rect x="284" y="610" width="1" height="10" fill="#c0c0c0"/>
<rect x="288" y="609" width="1" height="11" fill="#c0c0c0"/>
<rect x="292" y="606" width="1" height="14" fill="#c0c0c0"/>
<rect x="296" y="604" width="1" height="16" fill="#c0c0c0"/>
<rect x="300" y="604" width="1" height="16" fill="#c0c0c0"/>
<rect x="304" y="604" width="1" height="16" fill="#c0c0c0"/>
<rect x="308" y="603" width="1" height="17" fill="#c0c0c0"/>
<rect x="312" y="602" width="1" height="18" fill="#c0c0c0"/>
<rect x="316" y="604" width="1" height="16" fill="#c0c0c0"/>
<rect x="320" y="606" width="1" height="14" fill="#c0c0c0"/>
<rect x="324" y="610" width="1" height="10" fill="#c0c0c0"/>
<rect x="328" y="611" width="1" height="9" fill="#c0c0c0"/>
<rect x="332" y="612" width="1" height="8" fill="#c0c0c0"/>
<rect x="336" y="613" width="1" height="7" fill="#c0c0c0"/>
<rect x="340" y="612" width="1" height="8" fill="#c0c0c0"/>
<rect x="344" y="612" width="1" height="8" fill="#c0c0c0"/>
<rect x="348" y="615" width="1" height="5" fill="#c0c0c0"/>
<rect x="352" y="616" width="1" height="4" fill="#c0c0c0"/>
<rect x="356" y="618" width="1" height="2" fill="#c0c0c0"/>
<rect x="360" y="617" width="1" height="3" fill="#c0c0c0"/>
<rect x="364" y="618" width="1" height="2" fill="#c0c0c0"/>
<rect x="368" y="618" width="1" height="2" fill="#c0c0c0"/>
<rect x="372" y="618" width="1" height="2" fill="#c0c0c0"/>
<rect x="376" y="617" width="1" height="3" fill="#c0c0c0"/>
<rect x="380" y="617" width="1" height="3" fill="#c0c0c0"/>
<rect x="384" y="617" width="1" height="3" fill="#c0c0c0"/>
<rect x="388" y="616" width="1" height="4" fill="#c0c0c0"/>
<rect x="392" y="616" width="1" height="4" fill="#c0c0c0"/>
<rect x="396" y="613" width="1" height="7" fill="#c0c0c0"/>
<rect x="400" y="609" width="1" height="11" fill="#c0c0c0"/>
<rect x="404" y="606" width="1" height="14" fill="#c0c0c0"/>
<rect x="408" y="604" width="1" height="16" fill="#c0c0c0"/>
<rect x="412" y="603" width="1" height="17" fill="#c0c0c0"/>
<rect x="416" y="603" width="1" height="17" fill="#c0c0c0"/>
<rect x="420" y="606" width="1" height="14" fill="#c0c0c0"/>
<rect x="424" y="606" width="1" height="14" fill="#c0c0c0"/>
<rect x="428" y="605" width="1" height="15" fill="#c0c0c0"/>
<rect x="432" y="606" width="1" height="14" fill="#c0c0c0"/>
<rect x="436" y="605" width="1" height="15" fill="#c0c0c0"/>
<rect x="440" y="606" width="1" height="14" fill="#c0c0c0"/>
<rect x="444" y="605" width="1" height="15" fill="#c0c0c0"/>
<rect x="448" y="605" width="1" height="15" fill="#c0c0c0"/>
<rect x="452" y="605" width="1" height="15" fill="#c0c0c0"/>
<rect x="456" y="607" width="1" height="13" fill="#c0c0c0"/>
<rect x="460" y="608" width="1" height="12" fill="#c0c0c0"/>
<rect x="464" y="608" width="1" height="12" fill="#c0c0c0"/>
<rect x="468" y="608" width="1" height="12" fill="#c0c0c0"/>
<rect x="472" y="609" width="1" height="11" fill="#c0c0c0"/>
<rect x="476" y="610" width="1" height="10" fill="#c0c0c0"/>
<rect x="480" y="611" width="1" height="9" fill="#c0c0c0"/>
<rect x="484" y="612" width="1" height="8" fill="#c0c0c0"/>
<rect x="488" y="613" width="1" height="7" fill="#c0c0c0"/>
<rect x="492" y="615" width="1" height="5" fill="#c0c0c0"/>
<rect x="496" y="616" width="1" height="4" fill="#c0c0c0"/>
<rect x="500" y="614" width="1" height="6" fill="#c0c0c0"/>
<rect x="504" y="615" width="1" height="5" fill="#c0c0c0"/>
<rect x="508" y="616" width="1" height="4" fill="#c0c0c0"/>
<rect x="512" y="616" width="1" height="4" fill="#c0c0c0"/>
<rect x="516" y="614" width="1" height="6" fill="#c0c0c0"/>
<rect x="520" y="612" width="1" height="8" fill="#c0c0c0"/>
<rect x="524" y="609" width="1" height="11" fill="#c0c0c0"/>
<rect x="528" y="608" width="1" height="12" fill="#c0c0c0"/>
<rect x="532" y="607" width="1" height="13" fill="#c0c0c0"/>
<rect x="536" y="610" width="1" height="10" fill="#c0c0c0"/>
<rect x="540" y="614" width="1" height="6" fill="#c0c0c0"/>
<rect x="544" y="616" width="1" height="4" fill="#c0c0c0"/>
<rect x="548" y="619" width="1" height="3" fill="#c0c0c0"/>
<rect x="552" y="619" width="1" height="10" fill="#c0c0c0"/>
<rect x="556" y="619" width="1" height="15" fill="#c0c0c0"/>
<rect x="560" y="619" width="1" height="20" fill="#c0c0c0"/>
<rect x="564" y="619" width="1" height="22" fill="#c0c0c0"/>
<rect x="568" y="619" width="1" height="22" fill="#c0c0c0"/>
<rect x="572" y="619" width="1" height="21" fill="#c0c0c0"/>
<rect x="576" y="619" width="1" height="17" fill="#c0c0c0"/>
<rect x="580" y="619" width="1" height="14" fill="#c0c0c0"/>
<rect x="584" y="619" width="1" height="12" fill="#c0c0c0"/>
<rect x="588" y="619" width="1" height="11" fill="#c0c0c0"/>
<rect x="592" y="619" width="1" height="15" fill="#c0c0c0"/>
<rect x="596" y="619" width="1" height="21" fill="#c0c0c0"/>
<rect x="600" y="619" width="1" height="24" fill="#c0c0c0"/>
<rect x="604" y="619" width="1" height="27" fill="#c0c0c0"/>
<rect x="608" y="619" width="1" height="30" fill="#c0c0c0"/>
<rect x="612" y="619" width="1" height="32" fill="#c0c0c0"/>
<rect x="616" y="619" width="1" height="36" fill="#c0c0c0"/>
<rect x="620" y="619" width="1" height="39" fill="#c0c0c0"/>
<rect x="624" y="619" width="1" height="42" fill="#c0c0c0"/>
<rect x="628" y="619" width="1" height="43" fill="#c0c0c0"/>
<rect x="632" y="619" width="1" height="42" fill="#c0c0c0"/>
<rect x="636" y="619" width="1" height="42" fill="#c0c0c0"/>
<rect x="640" y="619" width="1" height="44" fill="#c0c0c0"/>
<rect x="644" y="619" width="1" height="44" fill="#c0c0c0"/>
<rect x="648" y="619" width="1" height="43" fill="#c0c0c0"/>
<rect x="652" y="619" width="1" height="42" fill="#c0c0c0"/>
<rect x="656" y="619" width="1" height="40" fill="#c0c0c0"/>
<rect x="660" y="619" width="1" height="36" fill="#c0c0c0"/>
<rect x="664" y="619" width="1" height="35" fill="#c0c0c0"/>
<rect x="668" y="619" width="1" height="34" fill="#c0c0c0"/>
<rect x="672" y="619" width="1" height="35" fill="#c0c0c0"/>
<rect x="676" y="619" width="1" height="35" fill="#c0c0c0"/>
<rect x="680" y="619" width="1" height="34" fill="#c0c0c0"/>
<rect x="684" y="619" width="1" height="31" fill="#c0c0c0"/>
<rect x="688" y="619" width="1" height="30" fill="#c0c0c0"/>
<rect x="692" y="619" width="1" height="29" fill="#c0c0c0"/>
<rect x="696" y="619" width="1" height="28" fill="#c0c0c0"/>
<rect x="700" y="619" width="1" height="26" fill="#c0c0c0"/>
<rect x="704" y="619" width="1" height="22" fill="#c0c0c0"/>
<rect x="708" y="619" width="1" height="17" fill="#c0c0c0"/>
<rect x="712" y="619" width="1" height="14" fill="#c0c0c0"/>
<rect x="716" y="619" width="1" height="10" fill="#c0c0c0"/>
<rect x="720" y="619" width="1" height="7" fill="#c0c0c0"/>
<rect x="724" y="619" width="1" height="4" fill="#c0c0c0"/>
<rect x="728" y="619" width="1" height="2" fill="#c0c0c0"/>
<rect x="732" y="619" width="1" height="1" fill="#c0c0c0"/>
<rect x="736" y="617" width="1" height="3" fill="#c0c0c0"/>
<rect x="740" y="614" width="1" height="6" fill="#c0c0c0"/>
<rect x="744" y="612" width="1" height="8" fill="#c0c0c0"/>
<rect x="748" y="611" width="1" height="9" fill="#c0c0c0"/>
<rect x="752" y="610" width="1" height="10" fill="#c0c0c0"/>
<rect x="756" y="606" width="1" height="14" fill="#c0c0c0"/>
<rect x="760" y="602" width="1" height="18" fill="#c0c0c0"/>
<rect x="764" y="602" width="1" height="18" fill="#c0c0c0"/>
<rect x="768" y="604" width="1" height="16" fill="#c0c0c0"/>
<rect x="772" y="604" width="1" height="16" fill="#c0c0c0"/>
<rect x="776" y="605" width="1" height="15" fill="#c0c0c0"/>
<rect x="780" y="606" width="1" height="14" fill="#c0c0c0"/>
<rect x="784" y="603" width="1" height="17" fill="#c0c0c0"/>
<rect x="788" y="600" width="1" height="20" fill="#c0c0c0"/>
<rect x="792" y="600" width="1" height="20" fill="#c0c0c0"/>
<rect x="796" y="600" width="1" height="20" fill="#c0c0c0"/>
<rect x="800" y="598" width="1" height="22" fill="#c0c0c0"/>
<rect x="804" y="598" width="1" height="22" fill="#c0c0c0"/>
<rect x="808" y="599" width="1" height="21" fill="#c0c0c0"/>
<rect x="812" y="599" width="1" height="21" fill="#c0c0c0"/>
<rect x="816" y="600" width="1" height="20" fill="#c0c0c0"/>
<rect x="820" y="600" width="1" height="20" fill="#c0c0c0"/>
<rect x="824" y="603" width="1" height="17" fill="#c0c0c0"/>
<rect x="828" y="604" width="1" height="16" fill="#c0c0c0"/>
<rect x="832" y="604" width="1" height="16" fill="#c0c0c0"/>
<rect x="836" y="605" width="1" height="15" fill="#c0c0c0"/>
<rect x="840" y="605" width="1" height="15" fill="#c0c0c0"/>
<rect x="844" y="605" width="1" height="15" fill="#c0c0c0"/>
<rect x="848" y="604" width="1" height="16" fill="#c0c0c0"/>
<rect x="852" y="604" width="1" height="16" fill="#c0c0c0"/>
<rect x="856" y="608" width="1" height="12" fill="#c0c0c0"/>
<rect x="860" y="612" width="1" height="8" fill="#c0c0c0"/>
<rect x="864" y="617" width="1" height="3" fill="#c0c0c0"/>
<rect x="868" y="619" width="1" height="3" fill="#c0c0c0"/>
<rect x="872" y="619" width="1" height="7" fill="#c0c0c0"/>
<rect x="876" y="619" width="1" height="10" fill="#c0c0c0"/>
<rect x="880" y="619" width="1" height="11" fill="#c0c0c0"/>
<rect x="884" y="619" width="1" height="11" fill="#c0c0c0"/>
<rect x="888" y="619" width="1" height="7" fill="#c0c0c0"/>
<rect x="892" y="619" width="1" height="7" fill="#c0c0c0"/>
<rect x="896" y="619" width="1" height="6" fill="#c0c0c0"/>
<rect x="900" y="619" width="1" height="5" fill="#c0c0c0"/>
<rect x="904" y="619" width="1" height="2" fill="#c0c0c0"/>
<rect x="908" y="619" width="1" height="2" fill="#c0c0c0"/>
<rect x="912" y="618" width="1" height="2" fill="#c0c0c0"/>
<rect x="916" y="617" width="1" height="3" fill="#c0c0c0"/>
<rect x="920" y="617" width="1" height="3" fill="#c0c0c0"/>
<rect x="924" y="617" width="1" height="3" fill="#c0c0c0"/>
<rect x="928" y="617" width="1" height="3" fill="#c0c0c0"/>
<rect x="932" y="617" width="1" height="3" fill="#c0c0c0"/>
<rect x="936" y="617" width="1" height="3" fill="#c0c0c0"/>
<rect x="940" y="618" width="1" height="2" fill="#c0c0c0"/>
<rect x="944" y="618" width="1" height="2" fill="#c0c0c0"/>
<rect x="948" y="619" width="1" height="2" fill="#c0c0c0"/>
<rect x="952" y="616" width="1" height="4" fill="#c0c0c0"/>
<rect x="956" y="613" width="1" height="7" fill="#c0c0c0"/>
<rect x="960" y="612" width="1" height="8" fill="#c0c0c0"/>
<rect x="964" y="611" width="1" height="9" fill="#c0c0c0"/>
<rect x="968" y="611" width="1" height="9" fill="#c0c0c0"/>
<rect x="972" y="610" width="1" height="10" fill="#c0c0c0"/>
<rect x="976" y="609" width="1" height="11" fill="#c0c0c0"/>
<rect x="980" y="610" width="1" height="10" fill="#c0c0c0"/>
<rect x="984" y="616" width="1" height="4" fill="#c0c0c0"/>
<rect x="988" y="619" width="1" height="1" fill="#c0c0c0"/>
<rect x="992" y="619" width="1" height="2" fill="#c0c0c0"/>
<rect x="996" y="619" width="1" height="5" fill="#c0c0c0"/>
<rect x="1000" y="619" width="1" height="7" fill="#c0c0c0"/>
<rect x="1004" y="619" width="1" height="11" fill="#c0c0c0"/>
<rect x="1008" y="619" width="1" height="14" fill="#c0c0c0"/>
<rect x="1012" y="619" width="1" height="17" fill="#c0c0c0"/>
<rect x="1016" y="619" width="1" height="20" fill="#c0c0c0"/>
<rect x="1020" y="619" width="1" height="22" fill="#c0c0c0"/>
<rect x="1024" y="619" width="1" height="25" fill="#c0c0c0"/>
<rect x="1028" y="619" width="1" height="26" fill="#c0c0c0"/>
<rect x="1032" y="619" width="1" height="28" fill="#c0c0c0"/>
<rect x="1036" y="619" width="1" height="29" fill="#c0c0c0"/>
<rect x="1040" y="619" width="1" height="29" fill="#c0c0c0"/>
<rect x="1044" y="619" width="1" height="28" fill="#c0c0c0"/>
<rect x="1048" y="619" width="1" height="23" fill="#c0c0c0"/>
<rect x="1052" y="619" width="1" height="20" fill="#c0c0c0"/>
<rect x="1056" y="619" width="1" height="18" fill="#c0c0c0"/>
<rect x="1060" y="619" width="1" height="16" fill="#c0c0c0"/>
<rect x="1064" y="619" width="1" height="13" fill="#c0c0c0"/>
<rect x="1068" y="619" width="1" height="12" fill="#c0c0c0"/>
<rect x="1072" y="619" width="1" height="9" fill="#c0c0c0"/>
<rect x="1076" y="619" width="1" height="7" fill="#c0c0c0"/>
<rect x="1080" y="619" width="1" height="3" fill="#c0c0c0"/>
<rect x="1084" y="618" width="1" height="2" fill="#c0c0c0"/>
<rect x="1088" y="616" width="1" height="4" fill="#c0c0c0"/>
<rect x="1092" y="614" width="1" height="6" fill="#c0c0c0"/>
<rect x="1096" y="611" width="1" height="9" fill="#c0c0c0"/>
<rect x="1100" y="610" width="1" height="10" fill="#c0c0c0"/>
<rect x="1104" y="610" width="1" height="10" fill="#c0c0c0"/>
<rect x="1108" y="610" width="1" height="10" fill="#c0c0c0"/>
<rect x="1112" y="611" width="1" height="9" fill="#c0c0c0"/>
<rect x="1116" y="609" width="1" height="11" fill="#c0c0c0"/>
<rect x="1120" y="606" width="1" height="14" fill="#c0c0c0"/>
<rect x="1124" y="605" width="1" height="15" fill="#c0c0c0"/>
<rect x="1128" y="604" width="1" height="16" fill="#c0c0c0"/>
<polyline points="4.0,577.6 7.0,575.5 30.0,575.5 34.2,580.3 40.0,587.6 46.8,599.5 53.0,611.4 59.9,623.0 67.0,635.3 72.0,639.5 76.0,642.2 80.0,643.7 84.0,644.3 88.0,644.1 92.0,643.4 96.0,642.1 100.0,641.1 104.0,640.2 108.0,639.4 112.0,638.5 116.0,638.2 120.0,638.6 124.0,639.9 128.0,641.8 132.0,644.1 136.0,646.1 140.0,647.4 144.0,647.9 148.0,647.9 152.0,646.9 156.0,645.0 160.0,642.6 164.0,639.6 168.0,636.3 172.0,632.9 176.0,629.9 180.0,627.9 184.0,626.5 188.0,625.8 192.0,625.5 196.0,625.6 200.0,626.3 204.0,627.2 208.0,628.2 212.0,629.4 216.0,630.5 220.0,630.8 224.0,630.3 228.0,629.5 232.0,627.7 236.0,624.7 240.0,621.1 244.0,617.1 248.0,612.7 252.0,608.3 256.0,604.7 260.0,602.0 264.0,600.1 268.0,598.9 272.0,598.6 276.0,599.2 280.0,600.4 284.0,602.1 288.0,603.7 292.0,604.9 296.0,605.5 300.0,605.7 304.0,605.9 308.0,605.8 312.0,605.4 316.0,605.1 320.0,604.7 324.0,604.9 328.0,605.5 332.0,606.4 336.0,607.3 340.0,608.2 344.0,609.2 348.0,610.6 352.0,612.0 356.0,613.2 360.0,614.0 364.0,614.7 368.0,615.3 372.0,615.8 376.0,616.5 380.0,617.0 384.0,617.2 388.0,617.2 392.0,617.0 396.0,616.7 400.0,615.7 404.0,614.2 408.0,612.8 412.0,611.2 416.0,609.6 420.0,608.4 424.0,607.2 428.0,606.0 432.0,605.1 436.0,604.7 440.0,604.7 444.0,604.8 448.0,605.0 452.0,605.2 456.0,605.4 460.0,605.6 464.0,605.9 468.0,606.2 472.0,606.7 476.0,607.1 480.0,607.8 484.0,608.5 488.0,609.4 492.0,610.3 496.0,611.2 500.0,612.0 504.0,612.7 508.0,613.4 512.0,614.2 516.0,614.6 520.0,614.6 524.0,614.2 528.0,613.4 532.0,612.4 536.0,611.9 540.0,611.8 544.0,611.9 548.0,612.4 552.0,613.9 556.0,616.3 560.0,619.5 564.0,623.0 568.0,626.6 572.0,629.9 576.0,632.2 580.0,633.9 584.0,634.9 588.0,635.0 592.0,634.9 596.0,635.1 600.0,635.3 604.0,636.0 608.0,636.9 612.0,638.6 616.0,641.1 620.0,644.1 624.0,647.5 628.0,650.7 632.0,653.1 636.0,655.1 640.0,656.9 644.0,658.5 648.0,659.8 652.0,660.5 656.0,660.5 660.0,659.9 664.0,659.0 668.0,658.1 672.0,657.3 676.0,656.4 680.0,655.2 684.0,653.8 688.0,652.5 692.0,651.3 696.0,650.4 700.0,649.3 704.0,647.9 708.0,645.9 712.0,643.6 716.0,640.9 720.0,638.2 724.0,635.4 728.0,632.3 732.0,629.4 736.0,626.4 740.0,623.5 744.0,620.9 748.0,618.6 752.0,616.5 756.0,614.4 760.0,612.1 764.0,610.1 768.0,608.4 772.0,607.1 776.0,606.0 780.0,605.3 784.0,604.5 788.0,603.4 792.0,602.8 796.0,602.6 800.0,602.2 804.0,601.5 808.0,600.9 812.0,600.3 816.0,599.6 820.0,599.3 824.0,599.6 828.0,600.0 832.0,600.4 836.0,601.2 840.0,602.1 844.0,602.7 848.0,603.3 852.0,603.7 856.0,604.7 860.0,605.7 864.0,607.2 868.0,609.1 872.0,611.2 876.0,613.8 880.0,616.6 884.0,619.3 888.0,621.7 892.0,623.5 896.0,624.9 900.0,625.6 904.0,625.4 908.0,624.9 912.0,623.7 916.0,622.4 920.0,621.1 924.0,620.2 928.0,619.3 932.0,618.5 936.0,617.8 940.0,617.6 944.0,617.5 948.0,617.7 952.0,617.6 956.0,617.2 960.0,616.5 964.0,615.8 968.0,615.2 972.0,614.3 976.0,613.3 980.0,612.4 984.0,611.9 988.0,612.2 992.0,613.0 996.0,614.2 1000.0,615.7 1004.0,617.7 1008.0,620.2 1012.0,623.1 1016.0,626.3 1020.0,629.0 1024.0,631.7 1028.0,634.3 1032.0,636.9 1036.0,639.4 1040.0,641.4 1044.0,642.9 1048.0,643.7 1052.0,643.6 1056.0,643.1 1060.0,642.0 1064.0,640.6 1068.0,638.7 1072.0,636.5 1076.0,634.1 1080.0,631.3 1084.0,628.7 1088.0,626.3 1092.0,623.8 1096.0,621.4 1100.0,619.0 1104.0,616.7 1108.0,614.8 1112.0,613.3 1116.0,611.9 1120.0,610.5 1124.0,609.4 1128.0,608.4" fill="none" stroke="#ff0000" stroke-width="1" shape-rendering="crispEdges" stroke-dasharray="3 3"/>
<line x1="4" x2="1419" y1="710.5" y2="710.5" stroke="#c0c0c0" stroke-dasharray="3 3"/>
<line x1="4" x2="1419" y1="761.5" y2="761.5" stroke="#c0c0c0" stroke-dasharray="3 3"/>
<polyline points="4.0,703.7 8.0,707.0 12.0,708.3 16.0,707.2 20.0,707.2 24.0,734.3 28.0,745.9 32.0,748.8 36.0,756.0 40.0,760.3 44.0,762.8 48.0,758.2 52.0,753.0 56.0,752.6 60.0,751.3 64.0,753.2 68.0,751.2 72.0,748.9 76.0,751.4 80.0,748.3 84.0,744.0 88.0,733.2 92.0,736.2 96.0,734.5 100.0,751.8 104.0,752.3 108.0,745.3 112.0,743.8 116.0,758.1 120.0,759.0 124.0,762.0 128.0,759.9 132.0,756.8 136.0,754.6 140.0,740.0 144.0,728.1 148.0,732.8 152.0,732.6 156.0,729.5 160.0,739.1 164.0,735.1 168.0,730.9 172.0,737.0 176.0,737.9 180.0,739.1 184.0,742.2 188.0,746.9 192.0,738.0 196.0,747.9 200.0,748.8 204.0,740.9 208.0,743.6 212.0,745.7 216.0,742.6 220.0,726.4 224.0,728.7 228.0,725.8 232.0,721.6 236.0,714.5 240.0,714.4 244.0,718.6 248.0,718.9 252.0,723.9 256.0,727.8 260.0,736.0 264.0,736.0 268.0,730.0 272.0,730.8 276.0,731.4 280.0,736.2 284.0,738.9 288.0,727.4 292.0,722.4 296.0,724.2 300.0,726.2 304.0,728.4 308.0,723.9 312.0,721.7 316.0,735.2 320.0,735.7 324.0,740.8 328.0,735.9 332.0,735.8 336.0,732.5 340.0,728.9 344.0,732.4 348.0,741.8 352.0,738.7 356.0,740.7 360.0,730.8 364.0,737.9 368.0,737.7 372.0,732.8 376.0,734.2 380.0,734.6 384.0,731.6 388.0,730.5 392.0,735.8 396.0,723.2 400.0,715.6 404.0,718.9 408.0,722.5 412.0,722.2 416.0,724.4 420.0,736.4 424.0,728.7 428.0,724.6 432.0,732.1 436.0,726.0 440.0,729.9 444.0,726.7 448.0,726.5 452.0,728.3 456.0,734.5 460.0,732.9 464.0,726.8 468.0,731.1 472.0,733.8 476.0,730.3 480.0,734.4 484.0,733.8 488.0,737.6 492.0,742.2 496.0,734.9 500.0,728.4 504.0,735.3 508.0,735.3 512.0,736.0 516.0,726.0 520.0,722.4 524.0,719.7 528.0,722.4 532.0,722.8 536.0,739.5 540.0,747.3 544.0,741.4 548.0,750.4 552.0,759.1 556.0,759.1 560.0,759.6 564.0,756.1 568.0,745.7 572.0,746.7 576.0,732.3 580.0,733.5 584.0,736.4 588.0,739.3 592.0,751.8 596.0,759.4 600.0,755.3 604.0,756.2 608.0,757.5 612.0,758.2 616.0,763.0 620.0,765.3 624.0,766.2 628.0,763.8 632.0,754.9 636.0,758.5 640.0,762.4 644.0,763.0 648.0,755.6 652.0,756.2 656.0,751.0 660.0,746.3 664.0,753.2 668.0,753.6 672.0,757.9 676.0,757.1 680.0,753.9 684.0,745.8 688.0,749.6 692.0,752.9 696.0,747.1 700.0,747.4 704.0,734.4 708.0,732.7 712.0,731.9 716.0,728.9 720.0,727.0 724.0,727.8 728.0,729.2 732.0,733.1 736.0,723.9 740.0,721.0 744.0,721.9 748.0,724.7 752.0,722.1 756.0,711.8 760.0,707.9 764.0,727.5 768.0,731.6 772.0,729.9 776.0,727.1 780.0,731.3 784.0,718.0 788.0,717.3 792.0,726.1 796.0,722.5 800.0,719.1 804.0,721.7 808.0,727.3 812.0,726.2 816.0,724.3 820.0,723.5 824.0,735.8 828.0,730.0 832.0,727.1 836.0,731.4 840.0,725.8 844.0,726.3 848.0,724.1 852.0,723.1 856.0,743.9 860.0,742.7 864.0,750.2 868.0,751.3 872.0,750.5 876.0,753.6 880.0,745.2 884.0,740.2 888.0,729.3 892.0,739.4 896.0,735.5 900.0,735.3 904.0,727.5 908.0,734.9 912.0,731.4 916.0,733.2 920.0,732.8 924.0,737.1 928.0,734.2 932.0,732.7 936.0,737.2 940.0,738.1 944.0,737.1 948.0,742.1 952.0,723.7 956.0,722.5 960.0,726.3 964.0,729.0 968.0,729.3 972.0,726.3 976.0,724.1 980.0,735.7 984.0,749.8 988.0,745.9 992.0,741.7 996.0,745.0 1000.0,745.2 1004.0,753.7 1008.0,755.3 1012.0,752.6 1016.0,758.0 1020.0,756.3 1024.0,758.5 1028.0,759.0 1032.0,760.0 1036.0,759.2 1040.0,760.4 1044.0,750.8 1048.0,735.0 1052.0,734.4 1056.0,739.9 1060.0,738.6 1064.0,737.2 1068.0,736.9 1072.0,730.3 1076.0,732.9 1080.0,723.0 1084.0,723.0 1088.0,721.9 1092.0,721.7 1096.0,718.7 1100.0,720.1 1104.0,726.3 1108.0,727.5 1112.0,732.3 1116.0,719.2 1120.0,713.9 1124.0,720.7 1128.0,721.0" fill="none" stroke="#1e90ff" stroke-width="1" shape-rendering="crispEdges" />
<polyline points="4.0,207.0 9.9,192.6 16.5,172.7 20.7,164.5 24.0,163.0 33.9,161.5 38.0,165.3 43.0,172.7 52.9,187.6 61.2,202.5 66.1,219.0 71.0,235.5 79.3,259.8 89.3,284.5 99.2,312.6 108.0,341.2 112.0,345.7 116.0,354.2 120.0,360.4 124.0,366.1 128.0,370.2 132.0,374.7 136.0,379.8 140.0,381.9 144.0,380.7 148.0,380.1 152.0,379.9 156.0,379.1 160.0,380.4 164.0,381.0 168.0,381.1 172.0,385.1 176.0,388.7 180.0,393.0 184.0,393.8 188.0,395.7 192.0,396.9 196.0,401.7 200.0,401.9 204.0,399.7 208.0,397.0 212.0,395.4 216.0,393.6 220.0,387.2 224.0,384.7 228.0,384.6 232.0,381.6 236.0,375.5 240.0,370.3 244.0,363.4 248.0,357.6 252.0,354.4 256.0,350.4 260.0,348.2 264.0,345.8 268.0,340.7 272.0,334.4 276.0,330.4 280.0,324.4 284.0,318.6 288.0,311.9 292.0,302.6 296.0,293.1 300.0,284.7 304.0,281.8 308.0,277.1 312.0,272.7 316.0,273.0 320.0,276.5 324.0,281.4 328.0,284.1 332.0,286.7 336.0,287.5 340.0,286.3 344.0,283.7 348.0,283.3 352.0,283.9 356.0,284.7 360.0,283.2 364.0,282.2 368.0,280.5 372.0,280.7 376.0,282.8 380.0,284.7 384.0,285.4 388.0,285.5 392.0,287.7 396.0,287.8 400.0,282.6 404.0,277.8 408.0,272.4 412.0,268.1 416.0,264.2 420.0,263.3 424.0,261.5 428.0,257.9 432.0,253.7 436.0,248.5 440.0,243.7 444.0,240.3 448.0,235.1 452.0,230.4 456.0,228.0 460.0,224.9 464.0,220.4 468.0,217.3 472.0,214.9 476.0,210.9 480.0,210.4 484.0,212.2 488.0,214.1 492.0,216.2 496.0,217.1 500.0,216.3 504.0,214.4 508.0,214.4 512.0,215.7 516.0,213.3 520.0,211.8 524.0,208.7 528.0,206.9 532.0,205.3 536.0,206.2 540.0,207.6 544.0,208.4 548.0,212.9 552.0,219.8 556.0,226.1 560.0,233.4 564.0,239.3 568.0,243.3 572.0,246.9 576.0,246.3 580.0,247.3 584.0,250.4 588.0,252.8 592.0,259.0 596.0,268.3 600.0,278.6 604.0,290.1 608.0,302.9 612.0,315.5 616.0,330.0 620.0,342.8 624.0,354.1 628.0,366.2 632.0,374.3 636.0,380.5 640.0,388.4 644.0,396.3 648.0,403.5 652.0,412.9 656.0,421.1 660.0,431.8 664.0,444.1 668.0,455.9 672.0,468.4 676.0,477.0 680.0,482.0 684.0,486.5 688.0,491.6 692.0,497.1 696.0,501.3 700.0,503.6 704.0,502.3 708.0,500.2 712.0,498.2 716.0,497.3 720.0,494.6 724.0,490.4 728.0,486.2 732.0,483.8 736.0,479.6 740.0,475.5 744.0,472.5 748.0,467.8 752.0,462.5 756.0,453.4 760.0,443.1 764.0,436.5 768.0,432.1 772.0,426.3 776.0,418.9 780.0,413.3 784.0,404.1 788.0,397.1 792.0,392.2 796.0,386.4 800.0,380.3 804.0,375.0 808.0,370.7 812.0,365.8 816.0,359.9 820.0,355.6 824.0,354.2 828.0,351.3 832.0,347.4 836.0,344.8 840.0,343.3 844.0,343.2 848.0,339.4 852.0,334.5 856.0,334.3 860.0,334.4 864.0,335.9 868.0,341.3 872.0,346.7 876.0,351.3 880.0,355.6 884.0,359.8 888.0,361.1 892.0,363.7 896.0,365.7 900.0,368.1 904.0,368.6 908.0,368.6 912.0,369.0 916.0,370.4 920.0,371.0 924.0,373.9 928.0,376.1 932.0,378.4 936.0,382.0 940.0,381.4 944.0,381.0 948.0,379.4 952.0,373.4 956.0,367.3 960.0,360.9 964.0,356.5 968.0,353.2 972.0,351.8 976.0,347.3 980.0,346.0 984.0,348.3 988.0,351.8 992.0,352.7 996.0,355.4 1000.0,357.8 1004.0,362.6 1008.0,367.1 1012.0,371.7 1016.0,378.4 1020.0,383.9 1024.0,389.9 1028.0,396.3 1032.0,402.0 1036.0,411.7 1040.0,422.1 1044.0,430.5 1048.0,435.6 1052.0,440.5 1056.0,447.2 1060.0,454.2 1064.0,458.8 1068.0,459.8 1072.0,460.5 1076.0,462.4 1080.0,461.5 1084.0,460.6 1088.0,456.9 1092.0,452.7 1096.0,448.4 1100.0,442.5 1104.0,437.6 1108.0,432.1 1112.0,427.1 1116.0,419.5 1120.0,410.7 1124.0,402.5 1128.0,395.6" fill="none" stroke="#ffff00" stroke-width="1" shape-rendering="crispEdges" />
<polyline points="4.0,168.0 10.0,149.6 16.5,126.4 20.6,114.9 24.0,111.9 28.0,115.7 33.0,126.4 37.2,143.0 42.1,166.1 47.9,195.9 52.9,215.7 57.0,235.5 61.2,256.4 66.1,282.9 72.7,312.6 77.7,337.4 80.0,344.7 84.0,349.9 88.0,350.5 92.0,348.1 96.0,342.3 100.0,341.5 104.0,342.3 108.0,342.6 112.0,342.6 116.0,350.4 120.0,357.8 124.0,367.8 128.0,377.8 132.0,385.9 136.0,394.2 140.0,398.8 144.0,401.4 148.0,404.9 152.0,408.9 156.0,404.8 160.0,404.4 164.0,404.5 168.0,403.1 172.0,396.9 176.0,390.6 180.0,382.7 184.0,376.8 188.0,373.8 192.0,368.3 196.0,372.3 200.0,382.3 204.0,387.1 208.0,393.4 212.0,402.2 216.0,405.7 220.0,403.5 224.0,404.2 228.0,400.7 232.0,394.3 236.0,382.7 240.0,369.6 244.0,355.9 248.0,345.6 252.0,332.1 256.0,319.6 260.0,313.4 264.0,305.9 268.0,294.7 272.0,285.0 276.0,283.1 280.0,281.8 284.0,283.2 288.0,282.5 292.0,284.1 296.0,286.4 300.0,287.8 304.0,289.8 308.0,288.2 312.0,284.2 316.0,281.4 320.0,278.8 324.0,280.6 328.0,280.4 332.0,280.0 336.0,276.7 340.0,271.2 344.0,271.2 348.0,276.8 352.0,280.9 356.0,285.1 360.0,285.2 364.0,289.6 368.0,294.9 372.0,294.1 376.0,293.6 380.0,291.3 384.0,289.8 388.0,287.9 392.0,288.6 396.0,286.4 400.0,279.7 404.0,270.6 408.0,263.4 412.0,255.5 416.0,251.4 420.0,248.4 424.0,242.7 428.0,237.0 432.0,233.2 436.0,226.7 440.0,222.5 444.0,217.4 448.0,210.7 452.0,208.7 456.0,212.2 460.0,214.2 464.0,213.2 468.0,213.5 472.0,214.0 476.0,209.9 480.0,209.7 484.0,211.1 488.0,211.1 492.0,214.9 496.0,215.5 500.0,215.4 504.0,217.4 508.0,218.8 512.0,218.6 516.0,215.8 520.0,213.9 524.0,209.7 528.0,205.4 532.0,202.3 536.0,202.4 540.0,205.4 544.0,205.7 548.0,208.2 552.0,217.5 556.0,228.7 560.0,238.3 564.0,247.0 568.0,252.5 572.0,261.5 576.0,266.8 580.0,273.5 584.0,280.6 588.0,288.7 592.0,298.1 596.0,309.5 600.0,321.1 604.0,329.7 608.0,334.4 612.0,339.5 616.0,347.3 620.0,357.6 624.0,371.6 628.0,384.5 632.0,400.1 636.0,417.2 640.0,435.7 644.0,453.5 648.0,463.7 652.0,469.5 656.0,475.3 660.0,479.2 664.0,485.3 668.0,491.3 672.0,496.3 676.0,499.5 680.0,501.3 684.0,501.6 688.0,505.7 692.0,509.3 696.0,508.9 700.0,508.3 704.0,505.8 708.0,502.5 712.0,500.2 716.0,498.4 720.0,492.9 724.0,487.4 728.0,480.1 732.0,473.9 736.0,465.8 740.0,458.8 744.0,450.5 748.0,441.4 752.0,433.1 756.0,421.0 760.0,410.8 764.0,405.8 768.0,402.4 772.0,399.3 776.0,395.8 780.0,393.3 784.0,385.1 788.0,375.7 792.0,371.5 796.0,366.6 800.0,360.1 804.0,353.7 808.0,349.6 812.0,348.8 816.0,349.1 820.0,344.4 824.0,341.9 828.0,338.1 832.0,334.2 836.0,330.4 840.0,329.9 844.0,329.9 848.0,326.6 852.0,324.4 856.0,330.2 860.0,334.9 864.0,341.1 868.0,348.2 872.0,355.9 876.0,365.1 880.0,368.7 884.0,372.8 888.0,374.1 892.0,377.9 896.0,382.3 900.0,386.4 904.0,388.2 908.0,393.1 912.0,390.2 916.0,388.3 920.0,383.1 924.0,378.9 928.0,374.0 932.0,367.2 936.0,364.0 940.0,362.6 944.0,364.7 948.0,364.6 952.0,359.8 956.0,354.6 960.0,353.6 964.0,350.6 968.0,349.2 972.0,346.2 976.0,342.4 980.0,340.4 984.0,344.7 988.0,348.3 992.0,349.2 996.0,351.2 1000.0,353.4 1004.0,357.9 1008.0,369.4 1012.0,380.6 1016.0,393.5 1020.0,405.1 1024.0,417.7 1028.0,431.5 1032.0,446.6 1036.0,458.4 1040.0,465.3 1044.0,471.5 1048.0,474.9 1052.0,476.8 1056.0,480.3 1060.0,479.7 1064.0,478.0 1068.0,476.9 1072.0,471.4 1076.0,467.0 1080.0,458.5 1084.0,449.8 1088.0,440.3 1092.0,430.9 1096.0,420.1 1100.0,411.5 1104.0,408.1 1108.0,405.1 1112.0,401.4 1116.0,394.6 1120.0,386.3 1124.0,379.4 1128.0,374.2" fill="none" stroke="#ff0000" stroke-width="1" shape-rendering="crispEdges" />
<polyline points="26.0,107.0 30.0,136.0 34.0,166.0 38.0,205.0 41.6,240.0 44.6,263.0 48.0,315.2 52.0,338.3 56.0,351.7 60.0,361.7 64.0,365.6 68.0,362.7 72.0,355.0 76.0,352.2 80.0,351.1 84.0,348.1 88.0,339.3 92.0,330.6 96.0,321.9 100.0,327.9 104.0,332.4 108.0,334.2 112.0,337.2 116.0,361.5 120.0,385.0 124.0,413.7 128.0,427.7 132.0,439.5 136.0,454.3 140.0,460.4 144.0,441.3 148.0,424.8 152.0,404.1 156.0,381.8 160.0,369.4 164.0,354.7 168.0,345.7 172.0,352.6 176.0,356.3 180.0,361.3 184.0,371.7 188.0,378.3 192.0,381.8 196.0,399.0 200.0,411.9 204.0,418.0 208.0,425.6 212.0,432.7 216.0,433.2 220.0,425.2 224.0,409.4 228.0,389.4 232.0,370.7 236.0,339.7 240.0,306.5 244.0,278.6 248.0,265.9 252.0,254.8 256.0,249.7 260.0,256.1 264.0,272.0 268.0,282.9 272.0,291.5 276.0,300.2 280.0,308.9 284.0,316.7 288.0,308.9 292.0,296.2 296.0,289.8 300.0,284.1 304.0,279.4 308.0,267.5 312.0,251.8 316.0,253.9 320.0,261.4 324.0,271.4 328.0,276.7 332.0,280.6 336.0,285.9 340.0,290.5 344.0,288.4 348.0,292.3 352.0,290.4 356.0,293.4 360.0,289.7 364.0,293.2 368.0,299.3 372.0,299.8 376.0,294.9 380.0,292.2 384.0,286.1 388.0,286.1 392.0,284.0 396.0,273.6 400.0,259.5 404.0,246.3 408.0,234.7 412.0,224.8 416.0,216.8 420.0,212.8 424.0,211.8 428.0,214.4 432.0,220.1 436.0,218.8 440.0,220.2 444.0,217.9 448.0,208.5 452.0,205.7 456.0,210.0 460.0,208.4 464.0,207.6 468.0,206.7 472.0,210.1 476.0,211.3 480.0,213.8 484.0,212.2 488.0,213.8 492.0,222.3 496.0,224.4 500.0,220.8 504.0,223.5 508.0,223.9 512.0,224.9 516.0,217.8 520.0,205.5 524.0,195.0 528.0,189.9 532.0,181.1 536.0,180.9 540.0,185.8 544.0,193.5 548.0,211.0 552.0,239.9 556.0,267.5 560.0,295.5 564.0,313.0 568.0,319.2 572.0,329.5 576.0,322.5 580.0,307.1 584.0,293.7 588.0,282.0 592.0,283.2 596.0,299.8 600.0,312.8 604.0,336.9 608.0,361.8 612.0,385.2 616.0,412.7 620.0,432.1 624.0,443.5 628.0,456.3 632.0,463.4 636.0,472.7 640.0,486.2 644.0,494.3 648.0,495.3 652.0,495.5 656.0,494.2 660.0,495.0 664.0,497.9 668.0,496.4 672.0,498.3 676.0,503.7 680.0,507.1 684.0,509.0 688.0,516.4 692.0,520.6 696.0,521.4 700.0,518.2 704.0,507.8 708.0,497.8 712.0,491.5 716.0,480.3 720.0,465.1 724.0,453.4 728.0,442.0 732.0,439.9 736.0,433.7 740.0,426.1 744.0,420.8 748.0,417.8 752.0,412.9 756.0,400.0 760.0,381.7 764.0,377.9 768.0,378.7 772.0,377.7 776.0,373.8 780.0,373.6 784.0,370.2 788.0,369.8 792.0,365.0 796.0,354.6 800.0,342.4 804.0,333.5 808.0,325.6 812.0,327.3 816.0,328.4 820.0,323.9 824.0,329.3 828.0,333.9 832.0,334.9 836.0,335.3 840.0,332.5 844.0,331.4 848.0,329.2 852.0,319.6 856.0,326.5 860.0,334.8 864.0,346.9 868.0,364.0 872.0,380.3 876.0,400.9 880.0,417.9 884.0,419.1 888.0,413.4 892.0,409.0 896.0,400.6 900.0,392.5 904.0,375.6 908.0,368.3 912.0,361.3 916.0,363.1 920.0,357.2 924.0,357.2 928.0,355.4 932.0,358.8 936.0,359.7 940.0,363.9 944.0,366.4 948.0,372.1 952.0,362.5 956.0,353.8 960.0,348.3 964.0,341.6 968.0,334.5 972.0,325.9 976.0,312.8 980.0,318.3 984.0,335.6 988.0,348.3 992.0,356.8 996.0,367.8 1000.0,381.0 1004.0,403.0 1008.0,420.4 1012.0,425.7 1016.0,438.6 1020.0,453.3 1024.0,467.5 1028.0,482.0 1032.0,490.2 1036.0,496.4 1040.0,505.0 1044.0,504.5 1048.0,496.5 1052.0,486.1 1056.0,478.5 1060.0,469.3 1064.0,459.6 1068.0,448.8 1072.0,438.3 1076.0,437.4 1080.0,430.9 1084.0,421.2 1088.0,411.4 1092.0,402.2 1096.0,391.5 1100.0,384.7 1104.0,378.9 1108.0,379.3 1112.0,381.6 1116.0,377.7 1120.0,370.3 1124.0,367.2 1128.0,363.8" fill="none" stroke="#0000cd" stroke-width="1" shape-rendering="crispEdges" />
<rect x="4" y="52" width="1" height="53" fill="#ff0000" />
<rect x="3" y="22" width="1" height="779" fill="#000" />
<rect x="1419" y="22" width="1" height="779" fill="#000" />
<rect x="3" y="22" width="1417" height="1" fill="#000" />
<rect x="3" y="562" width="1417" height="1" fill="#000" />
<rect x="3" y="564" width="1417" height="1" fill="#000" />
<rect x="3" y="668" width="1417" height="1" fill="#000" />
<rect x="3" y="670" width="1417" height="1" fill="#000" />
<rect x="3" y="800" width="1417" height="1" fill="#000" />
<rect x="1421" y="341" width="40" height="11" fill="#000" />
<text x="1425.5" y="350" font-size="10" fill="#fff" text-anchor="start" font-weight="normal" textLength="32" lengthAdjust="spacingAndGlyphs" stroke="#fff" stroke-width="0.15" >1.32781</text>
<rect x="4" y="123" width="1417" height="3" fill="#ff0000" />
<rect x="3" y="121" width="7" height="7" fill="#ff0000" />
<rect x="6" y="124" width="1" height="1" fill="#fff" />
<rect x="1413" y="121" width="7" height="7" fill="#ff0000" />
<rect x="1416" y="124" width="1" height="1" fill="#fff" />
<rect x="4" y="235" width="1417" height="3" fill="#ff0000" />
<rect x="4" y="351" width="1417" height="3" fill="#00ff00" />
<rect x="3" y="349" width="7" height="7" fill="#00ff00" />
<rect x="6" y="352" width="1" height="1" fill="#fff" />
<rect x="1413" y="349" width="7" height="7" fill="#00ff00" />
<rect x="1416" y="352" width="1" height="1" fill="#fff" />
<rect x="4" y="451" width="1417" height="3" fill="#0000ff" />
<rect x="3" y="449" width="7" height="7" fill="#0000ff" />
<rect x="6" y="452" width="1" height="1" fill="#fff" />
<rect x="1413" y="449" width="7" height="7" fill="#0000ff" />
<rect x="1416" y="452" width="1" height="1" fill="#fff" />
<rect x="4" y="559" width="1417" height="3" fill="#0000ff" />
<rect x="1420" y="31" width="2" height="1" fill="#000" />
<text x="1425.5" y="35" font-size="10" fill="#000" text-anchor="start" font-weight="normal" textLength="32" lengthAdjust="spacingAndGlyphs" stroke="#000" stroke-width="0.15" >1.36870</text>
<rect x="1420" y="64" width="2" height="1" fill="#000" />
<text x="1425.5" y="68" font-size="10" fill="#000" text-anchor="start" font-weight="normal" textLength="32" lengthAdjust="spacingAndGlyphs" stroke="#000" stroke-width="0.15" >1.36440</text>
<rect x="1420" y="97" width="2" height="1" fill="#000" />
<text x="1425.5" y="101" font-size="10" fill="#000" text-anchor="start" font-weight="normal" textLength="32" lengthAdjust="spacingAndGlyphs" stroke="#000" stroke-width="0.15" >1.36010</text>
<rect x="1420" y="130" width="2" height="1" fill="#000" />
<text x="1425.5" y="134" font-size="10" fill="#000" text-anchor="start" font-weight="normal" textLength="32" lengthAdjust="spacingAndGlyphs" stroke="#000" stroke-width="0.15" >1.35580</text>
<rect x="1420" y="163" width="2" height="1" fill="#000" />
<text x="1425.5" y="167" font-size="10" fill="#000" text-anchor="start" font-weight="normal" textLength="32" lengthAdjust="spacingAndGlyphs" stroke="#000" stroke-width="0.15" >1.35160</text>
<rect x="1420" y="196" width="2" height="1" fill="#000" />
<text x="1425.5" y="200" font-size="10" fill="#000" text-anchor="start" font-weight="normal" textLength="32" lengthAdjust="spacingAndGlyphs" stroke="#000" stroke-width="0.15" >1.34730</text>
<rect x="1420" y="229" width="2" height="1" fill="#000" />
<text x="1425.5" y="233" font-size="10" fill="#000" text-anchor="start" font-weight="normal" textLength="32" lengthAdjust="spacingAndGlyphs" stroke="#000" stroke-width="0.15" >1.34300</text>
<rect x="1420" y="262" width="2" height="1" fill="#000" />
<text x="1425.5" y="266" font-size="10" fill="#000" text-anchor="start" font-weight="normal" textLength="32" lengthAdjust="spacingAndGlyphs" stroke="#000" stroke-width="0.15" >1.33870</text>
<rect x="1420" y="295" width="2" height="1" fill="#000" />
<text x="1425.5" y="299" font-size="10" fill="#000" text-anchor="start" font-weight="normal" textLength="32" lengthAdjust="spacingAndGlyphs" stroke="#000" stroke-width="0.15" >1.33440</text>
<rect x="1420" y="328" width="2" height="1" fill="#000" />
<text x="1425.5" y="332" font-size="10" fill="#000" text-anchor="start" font-weight="normal" textLength="32" lengthAdjust="spacingAndGlyphs" stroke="#000" stroke-width="0.15" >1.33010</text>
<rect x="1420" y="361" width="2" height="1" fill="#000" />
<text x="1425.5" y="365" font-size="10" fill="#000" text-anchor="start" font-weight="normal" textLength="32" lengthAdjust="spacingAndGlyphs" stroke="#000" stroke-width="0.15" >1.32580</text>
<rect x="1420" y="394" width="2" height="1" fill="#000" />
<text x="1425.5" y="398" font-size="10" fill="#000" text-anchor="start" font-weight="normal" textLength="32" lengthAdjust="spacingAndGlyphs" stroke="#000" stroke-width="0.15" >1.32150</text>
<rect x="1420" y="427" width="2" height="1" fill="#000" />
<text x="1425.5" y="431" font-size="10" fill="#000" text-anchor="start" font-weight="normal" textLength="32" lengthAdjust="spacingAndGlyphs" stroke="#000" stroke-width="0.15" >1.31730</text>
<rect x="1420" y="460" width="2" height="1" fill="#000" />
<text x="1425.5" y="464" font-size="10" fill="#000" text-anchor="start" font-weight="normal" textLength="32" lengthAdjust="spacingAndGlyphs" stroke="#000" stroke-width="0.15" >1.31300</text>
<rect x="1420" y="493" width="2" height="1" fill="#000" />
<text x="1425.5" y="497" font-size="10" fill="#000" text-anchor="start" font-weight="normal" textLength="32" lengthAdjust="spacingAndGlyphs" stroke="#000" stroke-width="0.15" >1.30870</text>
<rect x="1420" y="526" width="2" height="1" fill="#000" />
<text x="1425.5" y="530" font-size="10" fill="#000" text-anchor="start" font-weight="normal" textLength="32" lengthAdjust="spacingAndGlyphs" stroke="#000" stroke-width="0.15" >1.30440</text>
<rect x="1421" y="118" width="40" height="11" fill="#ff0000" />
<text x="1425.5" y="127" font-size="10" fill="#fff" text-anchor="start" font-weight="normal" textLength="32" lengthAdjust="spacingAndGlyphs" stroke="#fff" stroke-width="0.15" >1.35660</text>
<rect x="1421" y="230" width="40" height="11" fill="#ff0000" />
<text x="1425.5" y="239" font-size="10" fill="#fff" text-anchor="start" font-weight="normal" textLength="32" lengthAdjust="spacingAndGlyphs" stroke="#fff" stroke-width="0.15" >1.34206</text>
<rect x="1421" y="346" width="40" height="11" fill="#00ff00" />
<text x="1425.5" y="355" font-size="10" fill="#fff" text-anchor="start" font-weight="normal" textLength="32" lengthAdjust="spacingAndGlyphs" stroke="#fff" stroke-width="0.15" >1.32701</text>
<rect x="1421" y="446" width="40" height="11" fill="#0000ff" />
<text x="1425.5" y="455" font-size="10" fill="#fff" text-anchor="start" font-weight="normal" textLength="32" lengthAdjust="spacingAndGlyphs" stroke="#fff" stroke-width="0.15" >1.31407</text>
<rect x="1421" y="554" width="40" height="11" fill="#0000ff" />
<text x="1425.5" y="563" font-size="10" fill="#fff" text-anchor="start" font-weight="normal" textLength="32" lengthAdjust="spacingAndGlyphs" stroke="#fff" stroke-width="0.15" >1.30004</text>
<text x="1423" y="575" font-size="10" fill="#000" text-anchor="start" font-weight="normal" textLength="38" lengthAdjust="spacingAndGlyphs" stroke="#000" stroke-width="0.15" >0.010311</text>
<rect x="1420" y="619" width="2" height="1" fill="#000" />
<text x="1423.5" y="623" font-size="10" fill="#000" text-anchor="start" font-weight="normal" textLength="17.5" lengthAdjust="spacingAndGlyphs" stroke="#000" stroke-width="0.15" >0.00</text>
<rect x="1420" y="565" width="1" height="1" fill="#000" />
<rect x="1420" y="667" width="1" height="1" fill="#000" />
<rect x="1420" y="671" width="1" height="1" fill="#000" />
<rect x="1420" y="799" width="1" height="1" fill="#000" />
<text x="1423" y="665" font-size="10" fill="#000" text-anchor="start" font-weight="normal" textLength="41" lengthAdjust="spacingAndGlyphs" stroke="#000" stroke-width="0.15" >-0.009203</text>
<text x="1423" y="681" font-size="10" fill="#000" text-anchor="start" font-weight="normal" textLength="15" lengthAdjust="spacingAndGlyphs" stroke="#000" stroke-width="0.15" >100</text>
<rect x="1420" y="710" width="2" height="1" fill="#000" />
<text x="1423" y="714" font-size="10" fill="#000" text-anchor="start" font-weight="normal" textLength="10" lengthAdjust="spacingAndGlyphs" stroke="#000" stroke-width="0.15" >70</text>
<rect x="1420" y="761" width="2" height="1" fill="#000" />
<text x="1423" y="765" font-size="10" fill="#000" text-anchor="start" font-weight="normal" textLength="10" lengthAdjust="spacingAndGlyphs" stroke="#000" stroke-width="0.15" >30</text>
<text x="1423" y="797" font-size="10" fill="#000" text-anchor="start" font-weight="normal" textLength="5" lengthAdjust="spacingAndGlyphs" stroke="#000" stroke-width="0.15" >0</text>
<path d="M7 33 L14 33 L10.5 29 Z" fill="#000" shape-rendering="auto"/>
<text x="19" y="34" font-size="10" fill="#000" text-anchor="start" font-weight="normal" textLength="68" lengthAdjust="spacingAndGlyphs" stroke="#000" stroke-width="0.15" >USDCAD-,Daily</text>
<text x="94" y="34" font-size="10" fill="#000" text-anchor="start" font-weight="normal" textLength="140.5" lengthAdjust="spacingAndGlyphs" stroke="#000" stroke-width="0.15" >1.32801 1.32823 1.32690 1.32781</text>
<rect x="4" y="801" width="1" height="3" fill="#000" />
<text x="3" y="813" font-size="10" fill="#000" text-anchor="start" font-weight="normal" textLength="52" lengthAdjust="spacingAndGlyphs" stroke="#000" stroke-width="0.15" >28 Dec 2018</text>
<rect x="68" y="801" width="1" height="3" fill="#000" />
<text x="67" y="813" font-size="10" fill="#000" text-anchor="start" font-weight="normal" textLength="51" lengthAdjust="spacingAndGlyphs" stroke="#000" stroke-width="0.15" >16 Jan 2019</text>
<rect x="132" y="801" width="1" height="3" fill="#000" />
<text x="131" y="813" font-size="10" fill="#000" text-anchor="start" font-weight="normal" textLength="47" lengthAdjust="spacingAndGlyphs" stroke="#000" stroke-width="0.15" >4 Feb 2019</text>
<rect x="196" y="801" width="1" height="3" fill="#000" />
<text x="195" y="813" font-size="10" fill="#000" text-anchor="start" font-weight="normal" textLength="52" lengthAdjust="spacingAndGlyphs" stroke="#000" stroke-width="0.15" >22 Feb 2019</text>
<rect x="260" y="801" width="1" height="3" fill="#000" />
<text x="259" y="813" font-size="10" fill="#000" text-anchor="start" font-weight="normal" textLength="52" lengthAdjust="spacingAndGlyphs" stroke="#000" stroke-width="0.15" >13 Mar 2019</text>
<rect x="324" y="801" width="1" height="3" fill="#000" />
<text x="323" y="813" font-size="10" fill="#000" text-anchor="start" font-weight="normal" textLength="46" lengthAdjust="spacingAndGlyphs" stroke="#000" stroke-width="0.15" >1 Apr 2019</text>
<rect x="388" y="801" width="1" height="3" fill="#000" />
<text x="387" y="813" font-size="10" fill="#000" text-anchor="start" font-weight="normal" textLength="51" lengthAdjust="spacingAndGlyphs" stroke="#000" stroke-width="0.15" >21 Apr 2019</text>
<rect x="452" y="801" width="1" height="3" fill="#000" />
<text x="451" y="813" font-size="10" fill="#000" text-anchor="start" font-weight="normal" textLength="50" lengthAdjust="spacingAndGlyphs" stroke="#000" stroke-width="0.15" >9 May 2019</text>
<rect x="516" y="801" width="1" height="3" fill="#000" />
<text x="515" y="813" font-size="10" fill="#000" text-anchor="start" font-weight="normal" textLength="55" lengthAdjust="spacingAndGlyphs" stroke="#000" stroke-width="0.15" >28 May 2019</text>
<rect x="580" y="801" width="1" height="3" fill="#000" />
<text x="579" y="813" font-size="10" fill="#000" text-anchor="start" font-weight="normal" textLength="50" lengthAdjust="spacingAndGlyphs" stroke="#000" stroke-width="0.15" >16 Jun 2019</text>
<rect x="644" y="801" width="1" height="3" fill="#000" />
<text x="643" y="813" font-size="10" fill="#000" text-anchor="start" font-weight="normal" textLength="42" lengthAdjust="spacingAndGlyphs" stroke="#000" stroke-width="0.15" >4 Jul 2019</text>
<rect x="708" y="801" width="1" height="3" fill="#000" />
<text x="707" y="813" font-size="10" fill="#000" text-anchor="start" font-weight="normal" textLength="47" lengthAdjust="spacingAndGlyphs" stroke="#000" stroke-width="0.15" >23 Jul 2019</text>
<rect x="772" y="801" width="1" height="3" fill="#000" />
<text x="771" y="813" font-size="10" fill="#000" text-anchor="start" font-weight="normal" textLength="53" lengthAdjust="spacingAndGlyphs" stroke="#000" stroke-width="0.15" >11 Aug 2019</text>
<rect x="836" y="801" width="1" height="3" fill="#000" />
<text x="835" y="813" font-size="10" fill="#000" text-anchor="start" font-weight="normal" textLength="53" lengthAdjust="spacingAndGlyphs" stroke="#000" stroke-width="0.15" >29 Aug 2019</text>
<rect x="900" y="801" width="1" height="3" fill="#000" />
<text x="899" y="813" font-size="10" fill="#000" text-anchor="start" font-weight="normal" textLength="52" lengthAdjust="spacingAndGlyphs" stroke="#000" stroke-width="0.15" >17 Sep 2019</text>
<rect x="964" y="801" width="1" height="3" fill="#000" />
<text x="963" y="813" font-size="10" fill="#000" text-anchor="start" font-weight="normal" textLength="46" lengthAdjust="spacingAndGlyphs" stroke="#000" stroke-width="0.15" >6 Oct 2019</text>
<rect x="1028" y="801" width="1" height="3" fill="#000" />
<text x="1027" y="813" font-size="10" fill="#000" text-anchor="start" font-weight="normal" textLength="51" lengthAdjust="spacingAndGlyphs" stroke="#000" stroke-width="0.15" >24 Oct 2019</text>
<rect x="1092" y="801" width="1" height="3" fill="#000" />
<text x="1091" y="813" font-size="10" fill="#000" text-anchor="start" font-weight="normal" textLength="53" lengthAdjust="spacingAndGlyphs" stroke="#000" stroke-width="0.15" >12 Nov 2019</text>
<defs>
<linearGradient id="gb" x1="0" y1="0" x2="0" y2="1"><stop offset="0" stop-color="#5656ff"/><stop offset="0.45" stop-color="#2c2ce0"/><stop offset="1" stop-color="#0000a8"/></linearGradient>
<linearGradient id="gg" x1="0" y1="0" x2="0" y2="1"><stop offset="0" stop-color="#efefef"/><stop offset="0.45" stop-color="#e0e0e0"/><stop offset="0.5" stop-color="#d2d2d2"/><stop offset="1" stop-color="#c8c8c8"/></linearGradient>
</defs>
<path d="M7 42 H59 V66 H116 V106 H7 Z" fill="url(#gb)"/>
<path d="M118 66 H174 V42 H226 V106 H118 Z" fill="url(#gb)"/>
<rect x="11" y="65" width="44" height="1" fill="#1a1a90" />
<rect x="178" y="65" width="44" height="1" fill="#1a1a90" />
<rect x="11" y="66" width="44" height="1" fill="#6262f0" />
<rect x="178" y="66" width="44" height="1" fill="#6262f0" />
<rect x="61" y="42" width="110" height="21" fill="#ffffff" stroke="#ababab" stroke-width="1" transform="translate(0.5,0.5)"/>
<rect x="63" y="44" width="19" height="18" fill="url(#gg)" />
<rect x="152" y="44" width="18" height="18" fill="url(#gg)" />
<rect x="82" y="43" width="1" height="20" fill="#b4b4b4" />
<rect x="150" y="43" width="1" height="20" fill="#b4b4b4" />
<rect x="69" y="51" width="5" height="1" fill="#4a5fb0" />
<rect x="160" y="51" width="1" height="1" fill="#4a5fb0" />
<rect x="70" y="52" width="3" height="1" fill="#4a5fb0" />
<rect x="159" y="52" width="3" height="1" fill="#4a5fb0" />
<rect x="71" y="53" width="1" height="1" fill="#4a5fb0" />
<rect x="158" y="53" width="5" height="1" fill="#4a5fb0" />
<text x="147" y="57" font-size="12" fill="#000" text-anchor="end" font-weight="normal" textLength="24" lengthAdjust="spacingAndGlyphs" >1.00</text>
<text x="20" y="58" font-size="12" fill="#fff" text-anchor="start" font-weight="normal" textLength="25" lengthAdjust="spacingAndGlyphs" >SELL</text>
<text x="187" y="58" font-size="12" fill="#fff" text-anchor="start" font-weight="normal" textLength="24" lengthAdjust="spacingAndGlyphs" >BUY</text>
<text x="27.5" y="96.4" font-size="12" fill="#fff" text-anchor="start" font-weight="bold" textLength="23.5" lengthAdjust="spacingAndGlyphs" >1.32</text>
<text x="54" y="96.8" font-size="34.5" fill="#fff" text-anchor="start" font-weight="normal" textLength="35" lengthAdjust="spacingAndGlyphs" >78</text>
<text x="95" y="81" font-size="12" fill="#fff" text-anchor="start" font-weight="bold" >1</text>
<text x="137.5" y="96.4" font-size="12" fill="#fff" text-anchor="start" font-weight="bold" textLength="23.5" lengthAdjust="spacingAndGlyphs" >1.32</text>
<text x="165.5" y="96.8" font-size="34.5" fill="#fff" text-anchor="start" font-weight="normal" textLength="35" lengthAdjust="spacingAndGlyphs" >80</text>
<text x="205" y="81" font-size="12" fill="#fff" text-anchor="start" font-weight="bold" >5</text>
<rect x="1130" y="23" width="9" height="1" fill="#c0c0c0" />
<rect x="1131" y="24" width="7" height="1" fill="#c0c0c0" />
<rect x="1132" y="25" width="5" height="1" fill="#c0c0c0" />
<rect x="1133" y="26" width="3" height="1" fill="#c0c0c0" />
<rect x="1134" y="27" width="1" height="1" fill="#c0c0c0" />
<text x="16.5" y="838" font-size="13" fill="#606060" text-anchor="start" font-weight="normal" textLength="84.5" lengthAdjust="spacingAndGlyphs" >EURUSD-,Daily</text>
<text x="123" y="838" font-size="13" fill="#606060" text-anchor="start" font-weight="normal" textLength="87.5" lengthAdjust="spacingAndGlyphs" >AUDUSD-,Daily</text>
<text x="233" y="838" font-size="13" fill="#606060" text-anchor="start" font-weight="normal" textLength="84" lengthAdjust="spacingAndGlyphs" >USDCHF-,Daily</text>
<text x="449" y="838" font-size="13" fill="#606060" text-anchor="start" font-weight="normal" textLength="88.5" lengthAdjust="spacingAndGlyphs" >USDCNH-,Daily</text>
<text x="560.5" y="838" font-size="13" fill="#606060" text-anchor="start" font-weight="normal" textLength="96.5" lengthAdjust="spacingAndGlyphs" >EURCHF-,Weekly</text>
<text x="681" y="838" font-size="13" fill="#606060" text-anchor="start" font-weight="normal" textLength="100" lengthAdjust="spacingAndGlyphs" >XAUUSD-,Weekly</text>
<text x="804" y="838" font-size="13" fill="#606060" text-anchor="start" font-weight="normal" textLength="73" lengthAdjust="spacingAndGlyphs" >GBPUSD-,H1</text>
<text x="900" y="838" font-size="13" fill="#606060" text-anchor="start" font-weight="normal" textLength="57" lengthAdjust="spacingAndGlyphs" >UKOil-,H1</text>
<text x="980" y="838" font-size="13" fill="#606060" text-anchor="start" font-weight="normal" textLength="69" lengthAdjust="spacingAndGlyphs" >USDX-,Daily</text>
<text x="1071" y="838" font-size="13" fill="#606060" text-anchor="start" font-weight="normal" textLength="70" lengthAdjust="spacingAndGlyphs" >EURCHF-,H1</text>
<text x="1165" y="838" font-size="13" fill="#606060" text-anchor="start" font-weight="normal" textLength="68" lengthAdjust="spacingAndGlyphs" >USOil-,Daily</text>
<rect x="113" y="826" width="1" height="14" fill="#6c6c6c" />
<rect x="222" y="826" width="1" height="14" fill="#6c6c6c" />
<rect x="549" y="826" width="1" height="14" fill="#6c6c6c" />
<rect x="669" y="826" width="1" height="14" fill="#6c6c6c" />
<rect x="793" y="826" width="1" height="14" fill="#6c6c6c" />
<rect x="889" y="826" width="1" height="14" fill="#6c6c6c" />
<rect x="969" y="826" width="1" height="14" fill="#6c6c6c" />
<rect x="1061" y="826" width="1" height="14" fill="#6c6c6c" />
<rect x="1153" y="826" width="1" height="14" fill="#6c6c6c" />
<rect x="1245" y="826" width="1" height="14" fill="#6c6c6c" />
<rect x="329" y="823" width="108" height="18" fill="#fff" />
<rect x="328" y="824" width="1" height="18" fill="#fff" />
<rect x="329" y="823" width="1" height="19" fill="#000" />
<rect x="436" y="823" width="1" height="19" fill="#000" />
<rect x="329" y="841" width="108" height="1" fill="#000" />
<rect x="437" y="825" width="1" height="18" fill="#b0b0b0" />
<text x="340" y="838" font-size="13" fill="#000" text-anchor="start" font-weight="normal" textLength="86.5" lengthAdjust="spacingAndGlyphs" >USDCAD-,Daily</text>
<path d="M1434 832 L1438 828.5 V835.5 Z" fill="#a0a0a0" shape-rendering="auto"/>
<path d="M1458 832 L1454 828.5 V835.5 Z" fill="#a0a0a0" shape-rendering="auto"/>
</svg>
</body></html>
